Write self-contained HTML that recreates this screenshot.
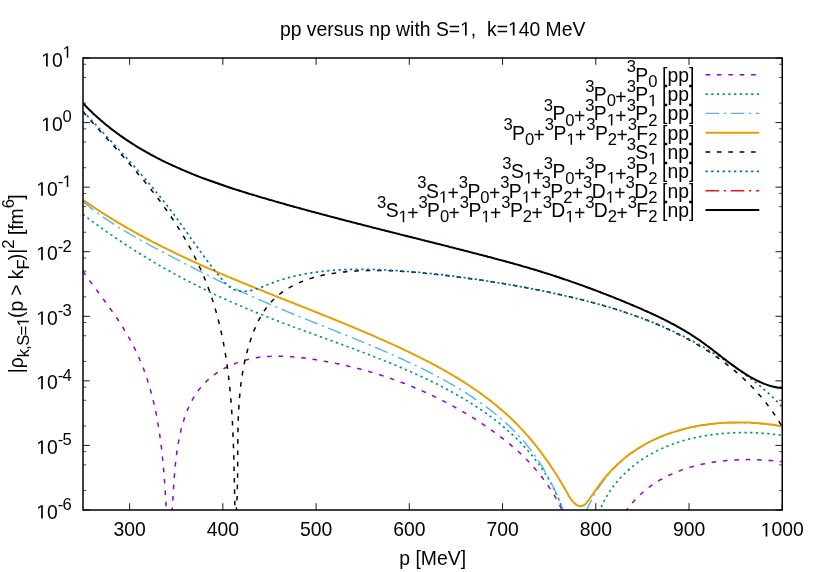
<!DOCTYPE html>
<html><head><meta charset="utf-8"><title>plot</title>
<style>
html,body{margin:0;padding:0;background:#fff;}
svg{display:block;}
text{font-family:"Liberation Sans",sans-serif;fill:#000;}
.h{fill:none;}
.s{font-size:16.64px;letter-spacing:-0.65px;}
</style></head><body>
<svg style="will-change:transform" width="817" height="572" viewBox="0 0 817 572">
<rect width="817" height="572" fill="#fff"/>
<defs><clipPath id="cp"><rect x="83.0" y="58.0" width="699.25" height="452.0"/></clipPath></defs>

<path d="M83.0,58.00h6.8 M782.25,58.00h-6.8 M83.0,122.57h6.8 M782.25,122.57h-6.8 M83.0,187.14h6.8 M782.25,187.14h-6.8 M83.0,251.71h6.8 M782.25,251.71h-6.8 M83.0,316.29h6.8 M782.25,316.29h-6.8 M83.0,380.86h6.8 M782.25,380.86h-6.8 M83.0,445.43h6.8 M782.25,445.43h-6.8 M83.0,510.00h6.8 M782.25,510.00h-6.8 M129.62,510.0v-6.8 M129.62,58.0v6.8 M222.85,510.0v-6.8 M222.85,58.0v6.8 M316.08,510.0v-6.8 M316.08,58.0v6.8 M409.32,510.0v-6.8 M409.32,58.0v6.8 M502.55,510.0v-6.8 M502.55,58.0v6.8 M595.78,510.0v-6.8 M595.78,58.0v6.8 M689.02,510.0v-6.8 M689.02,58.0v6.8 M782.25,510.0v-6.8 M782.25,58.0v6.8" stroke="#000" stroke-width="0.9" fill="none"/>
<path d="M83.0,103.13h3.2 M782.25,103.13h-3.2 M83.0,77.44h3.2 M782.25,77.44h-3.2 M83.0,64.26h3.2 M782.25,64.26h-3.2 M83.0,167.70h3.2 M782.25,167.70h-3.2 M83.0,142.01h3.2 M782.25,142.01h-3.2 M83.0,128.83h3.2 M782.25,128.83h-3.2 M83.0,232.28h3.2 M782.25,232.28h-3.2 M83.0,206.58h3.2 M782.25,206.58h-3.2 M83.0,193.40h3.2 M782.25,193.40h-3.2 M83.0,296.85h3.2 M782.25,296.85h-3.2 M83.0,271.15h3.2 M782.25,271.15h-3.2 M83.0,257.97h3.2 M782.25,257.97h-3.2 M83.0,361.42h3.2 M782.25,361.42h-3.2 M83.0,335.72h3.2 M782.25,335.72h-3.2 M83.0,322.54h3.2 M782.25,322.54h-3.2 M83.0,425.99h3.2 M782.25,425.99h-3.2 M83.0,400.30h3.2 M782.25,400.30h-3.2 M83.0,387.11h3.2 M782.25,387.11h-3.2 M83.0,490.56h3.2 M782.25,490.56h-3.2 M83.0,464.87h3.2 M782.25,464.87h-3.2 M83.0,451.69h3.2 M782.25,451.69h-3.2" stroke="#000" stroke-width="0.7" fill="none"/>
<text x="71.2" y="66.50" font-size="19.35" text-anchor="end"><tspan class="h">1</tspan>0<tspan class="s" dx="-0.1" dy="-8.70"><tspan class="h">1</tspan></tspan></text>
<text x="71.2" y="131.07" font-size="19.35" text-anchor="end"><tspan class="h">1</tspan>0<tspan class="s" dx="-0.1" dy="-8.70">0</tspan></text>
<text x="71.2" y="195.64" font-size="19.35" text-anchor="end"><tspan class="h">1</tspan>0<tspan class="s" dx="-0.1" dy="-8.70">-<tspan class="h">1</tspan></tspan></text>
<text x="71.2" y="260.21" font-size="19.35" text-anchor="end"><tspan class="h">1</tspan>0<tspan class="s" dx="-0.1" dy="-8.70">-2</tspan></text>
<text x="71.2" y="324.79" font-size="19.35" text-anchor="end"><tspan class="h">1</tspan>0<tspan class="s" dx="-0.1" dy="-8.70">-3</tspan></text>
<text x="71.2" y="389.36" font-size="19.35" text-anchor="end"><tspan class="h">1</tspan>0<tspan class="s" dx="-0.1" dy="-8.70">-4</tspan></text>
<text x="71.2" y="453.93" font-size="19.35" text-anchor="end"><tspan class="h">1</tspan>0<tspan class="s" dx="-0.1" dy="-8.70">-5</tspan></text>
<text x="71.2" y="518.50" font-size="19.35" text-anchor="end"><tspan class="h">1</tspan>0<tspan class="s" dx="-0.1" dy="-8.70">-6</tspan></text>
<text x="129.62" y="536.4" font-size="19.35" text-anchor="middle">300</text>
<text x="222.85" y="536.4" font-size="19.35" text-anchor="middle">400</text>
<text x="316.08" y="536.4" font-size="19.35" text-anchor="middle">500</text>
<text x="409.32" y="536.4" font-size="19.35" text-anchor="middle">600</text>
<text x="502.55" y="536.4" font-size="19.35" text-anchor="middle">700</text>
<text x="595.78" y="536.4" font-size="19.35" text-anchor="middle">800</text>
<text x="689.02" y="536.4" font-size="19.35" text-anchor="middle">900</text>
<text x="782.25" y="536.4" font-size="19.35" text-anchor="middle"><tspan class="h">1</tspan>000</text>
<text x="432.7" y="35.5" font-size="19.35" text-anchor="middle" xml:space="preserve">pp versus np with S=<tspan class="h">1</tspan>,  k=<tspan class="h">1</tspan>40 MeV</text>
<text x="432.7" y="565.3" font-size="19.35" text-anchor="middle">p [MeV]</text>
<text transform="translate(22.6,283.85) rotate(-90)" font-size="19.35" text-anchor="middle" textLength="178.8">|ρ<tspan class="s" dy="6.10">k,S=<tspan class="h">1</tspan></tspan><tspan dy="-6.10">(p &gt; k</tspan><tspan class="s" dy="6.10">F</tspan><tspan dy="-6.10">)|</tspan><tspan class="s" dy="-8.70">2</tspan><tspan dy="8.70"> [fm</tspan><tspan class="s" dy="-8.70">6</tspan><tspan dy="8.70">]</tspan></text>
<g clip-path="url(#cp)" fill="none" stroke-linejoin="round">
<path d="M82.9,271.1 L83.8,272.3 L84.6,273.6 L85.5,274.8 L86.3,276.0 L87.2,277.2 L88.1,278.4 L89.0,279.7 L89.8,280.9 L90.7,282.1 L91.6,283.3 L92.5,284.5 L93.4,285.7 L94.3,286.9 L95.2,288.2 L96.1,289.4 L97.0,290.6 L97.9,291.8 L98.8,293.0 L99.7,294.2 L100.6,295.4 L101.5,296.6 L102.4,297.8 L103.3,299.1 L104.2,300.3 L105.1,301.5 L106.0,302.7 L106.8,303.9 L107.7,305.2 L108.6,306.4 L109.5,307.6 L110.4,308.8 L111.3,310.1 L112.1,311.3 L113.0,312.5 L113.9,313.8 L114.7,315.0 L115.6,316.3 L116.4,317.5 L117.3,318.8 L118.1,320.0 L118.9,321.3 L119.8,322.6 L120.6,323.8 L121.4,325.1 L122.2,326.4 L123.0,327.7 L123.8,329.0 L124.6,330.3 L125.4,331.5 L126.1,332.8 L126.9,334.1 L127.7,335.5 L128.4,336.8 L129.2,338.1 L129.9,339.4 L130.6,340.7 L131.3,342.0 L132.0,343.4 L132.7,344.7 L133.4,346.1 L134.1,347.4 L134.8,348.7 L135.5,350.1 L136.1,351.4 L136.8,352.8 L137.4,354.2 L138.0,355.5 L138.6,356.9 L139.2,358.3 L139.8,359.7 L140.4,361.0 L141.0,362.4 L141.6,363.8 L142.1,365.2 L142.7,366.6 L143.2,368.0 L143.8,369.4 L144.3,370.8 L144.8,372.2 L145.3,373.6 L145.8,375.1 L146.3,376.5 L146.8,377.9 L147.3,379.3 L147.7,380.8 L148.2,382.2 L148.6,383.6 L149.1,385.1 L149.5,386.5 L149.9,388.0 L150.3,389.4 L150.7,390.9 L151.1,392.3 L151.5,393.8 L151.9,395.2 L152.3,396.7 L152.7,398.2 L153.0,399.6 L153.4,401.1 L153.7,402.6 L154.1,404.0 L154.4,405.5 L154.7,407.0 L155.1,408.5 L155.4,410.0 L155.7,411.4 L156.0,412.9 L156.3,414.4 L156.6,415.9 L156.8,417.4 L157.1,418.9 L157.4,420.4 L157.7,421.9 L157.9,423.4 L158.2,424.9 L158.4,426.4 L158.7,427.9 L158.9,429.4 L159.1,430.9 L159.4,432.4 L159.6,433.9 L159.8,435.4 L160.0,436.9 L160.2,438.4 L160.4,439.9 L160.6,441.4 L160.8,442.9 L161.0,444.4 L161.2,445.9 L161.4,447.4 L161.6,448.9 L161.7,450.5 L161.9,452.0 L162.1,453.5 L162.2,455.0 L162.4,456.5 L162.5,458.0 L162.7,459.5 L162.8,461.0 L163.0,462.6 L163.1,464.1 L163.3,465.6 L163.4,467.1 L163.5,468.6 L163.7,470.1 L163.8,471.6 L163.9,473.1 L164.0,474.6 L164.1,476.1 L164.3,477.7 L164.4,479.2 L164.5,480.7 L164.6,482.2 L164.7,483.7 L164.8,485.2 L164.9,486.7 L165.0,488.2 L165.1,489.7 L165.2,491.2 L165.3,492.7 L165.4,494.2 L165.5,495.7 L165.6,497.2 L165.7,498.6 L165.8,500.1 L165.9,501.6 L166.0,503.1 L166.0,504.6 L166.1,506.1 L166.2,507.6 L166.3,509.0 L166.4,510.5 L166.5,512.0" stroke="#9400d3" stroke-width="1.5" stroke-dasharray="4.6 6.8"/>
<path d="M172.0,512.0 L172.1,510.7 L172.2,509.4 L172.3,508.2 L172.3,506.8 L172.4,505.5 L172.5,504.2 L172.6,502.8 L172.7,501.5 L172.8,500.1 L172.9,498.7 L173.0,497.3 L173.1,495.9 L173.2,494.4 L173.2,493.0 L173.3,491.6 L173.4,490.1 L173.5,488.6 L173.6,487.1 L173.7,485.7 L173.8,484.2 L173.9,482.7 L174.0,481.1 L174.1,479.6 L174.2,478.1 L174.3,476.6 L174.5,475.0 L174.6,473.5 L174.7,471.9 L174.8,470.4 L175.0,468.8 L175.1,467.2 L175.3,465.7 L175.4,464.1 L175.6,462.5 L175.8,461.0 L175.9,459.4 L176.1,457.8 L176.3,456.2 L176.5,454.6 L176.7,453.0 L177.0,451.5 L177.2,449.9 L177.4,448.3 L177.7,446.7 L177.9,445.1 L178.2,443.6 L178.5,442.0 L178.8,440.4 L179.1,438.9 L179.4,437.3 L179.7,435.7 L180.0,434.2 L180.4,432.6 L180.8,431.1 L181.1,429.6 L181.5,428.0 L181.9,426.5 L182.3,425.0 L182.8,423.5 L183.2,422.0 L183.7,420.5 L184.1,419.0 L184.6,417.6 L185.1,416.1 L185.7,414.6 L186.2,413.2 L186.8,411.8 L187.3,410.4 L187.9,408.9 L188.5,407.6 L189.1,406.2 L189.8,404.8 L190.5,403.4 L191.1,402.1 L191.8,400.8 L192.6,399.5 L193.3,398.2 L194.1,396.9 L194.8,395.6 L195.6,394.4 L196.4,393.1 L197.3,391.9 L198.2,390.7 L199.0,389.6 L199.9,388.4 L200.9,387.3 L201.8,386.1 L202.8,385.0 L203.8,384.0 L204.8,382.9 L205.9,381.9 L206.9,380.8 L208.0,379.8 L209.1,378.9 L210.2,377.9 L211.4,377.0 L212.6,376.1 L213.7,375.2 L214.9,374.3 L216.2,373.4 L217.4,372.6 L218.6,371.8 L219.9,371.0 L221.2,370.2 L222.5,369.5 L223.8,368.7 L225.1,368.0 L226.4,367.3 L227.8,366.7 L229.1,366.0 L230.5,365.4 L231.9,364.8 L233.3,364.2 L234.7,363.7 L236.1,363.1 L237.5,362.6 L238.9,362.1 L240.3,361.6 L241.8,361.2 L243.2,360.7 L244.7,360.3 L246.1,359.9 L247.6,359.6 L249.0,359.2 L250.5,358.9 L252.0,358.6 L253.4,358.3 L254.9,358.0 L256.4,357.8 L257.9,357.6 L259.3,357.3 L260.8,357.2 L262.3,357.0 L263.8,356.8 L265.3,356.7 L266.8,356.6 L268.3,356.5 L269.8,356.4 L271.3,356.3 L272.8,356.3 L274.4,356.2 L275.9,356.2 L277.4,356.2 L278.9,356.2 L280.4,356.2 L281.9,356.2 L283.5,356.3 L285.0,356.3 L286.5,356.4 L288.0,356.5 L289.5,356.6 L291.1,356.7 L292.6,356.8 L294.1,356.9 L295.6,357.1 L297.2,357.2 L298.7,357.4 L300.2,357.5 L301.7,357.7 L303.2,357.9 L304.8,358.1 L306.3,358.3 L307.8,358.5 L309.3,358.7 L310.8,358.9 L312.3,359.2 L313.8,359.4 L315.4,359.6 L316.9,359.9 L318.4,360.1 L319.9,360.4 L321.4,360.6 L322.9,360.9 L324.4,361.2 L325.9,361.4 L327.4,361.7 L328.8,362.0 L330.3,362.3 L331.8,362.6 L333.3,362.9 L334.8,363.1 L336.3,363.5 L337.7,363.8 L339.2,364.1 L340.7,364.4 L342.2,364.7 L343.6,365.0 L345.1,365.4 L346.6,365.7 L348.0,366.0 L349.5,366.4 L350.9,366.7 L352.4,367.1 L353.9,367.5 L355.3,367.8 L356.8,368.2 L358.2,368.6 L359.7,368.9 L361.1,369.3 L362.6,369.7 L364.0,370.1 L365.4,370.5 L366.9,370.9 L368.3,371.3 L369.8,371.7 L371.2,372.2 L372.6,372.6 L374.1,373.0 L375.5,373.4 L376.9,373.9 L378.3,374.3 L379.8,374.8 L381.2,375.2 L382.6,375.7 L384.0,376.2 L385.5,376.6 L386.9,377.1 L388.3,377.6 L389.7,378.1 L391.1,378.6 L392.5,379.1 L394.0,379.6 L395.4,380.1 L396.8,380.6 L398.2,381.1 L399.6,381.6 L401.0,382.2 L402.4,382.7 L403.8,383.2 L405.2,383.8 L406.6,384.3 L408.0,384.9 L409.4,385.5 L410.8,386.0 L412.2,386.6 L413.6,387.2 L415.0,387.8 L416.4,388.3 L417.7,388.9 L419.1,389.5 L420.5,390.1 L421.9,390.8 L423.3,391.4 L424.6,392.0 L426.0,392.6 L427.4,393.2 L428.8,393.9 L430.1,394.5 L431.5,395.2 L432.9,395.8 L434.2,396.5 L435.6,397.1 L436.9,397.8 L438.3,398.5 L439.6,399.1 L441.0,399.8 L442.3,400.5 L443.7,401.2 L445.0,401.9 L446.4,402.6 L447.7,403.3 L449.1,404.0 L450.4,404.7 L451.7,405.4 L453.0,406.2 L454.4,406.9 L455.7,407.6 L457.0,408.4 L458.3,409.1 L459.7,409.9 L461.0,410.6 L462.3,411.4 L463.6,412.1 L464.9,412.9 L466.2,413.7 L467.5,414.5 L468.8,415.2 L470.1,416.0 L471.4,416.8 L472.6,417.6 L473.9,418.4 L475.2,419.2 L476.5,420.1 L477.8,420.9 L479.0,421.7 L480.3,422.5 L481.6,423.4 L482.8,424.2 L484.1,425.0 L485.3,425.9 L486.6,426.7 L487.8,427.6 L489.1,428.4 L490.3,429.3 L491.5,430.2 L492.8,431.1 L494.0,431.9 L495.2,432.8 L496.4,433.7 L497.7,434.6 L498.9,435.5 L500.1,436.4 L501.3,437.4 L502.5,438.3 L503.7,439.2 L504.8,440.1 L506.0,441.1 L507.2,442.0 L508.4,443.0 L509.5,443.9 L510.7,444.9 L511.8,445.9 L513.0,446.8 L514.1,447.8 L515.2,448.8 L516.4,449.8 L517.5,450.8 L518.6,451.8 L519.7,452.8 L520.8,453.9 L521.9,454.9 L523.0,455.9 L524.0,457.0 L525.1,458.0 L526.2,459.1 L527.2,460.2 L528.3,461.2 L529.3,462.3 L530.3,463.4 L531.3,464.5 L532.3,465.6 L533.3,466.8 L534.3,467.9 L535.3,469.0 L536.3,470.2 L537.3,471.3 L538.2,472.5 L539.2,473.6 L540.1,474.8 L541.1,476.0 L542.0,477.2 L542.9,478.4 L543.8,479.6 L544.7,480.8 L545.6,482.0 L546.4,483.2 L547.3,484.5 L548.2,485.7 L549.0,487.0 L549.8,488.2 L550.7,489.5 L551.5,490.8 L552.3,492.0 L553.1,493.3 L553.8,494.6 L554.6,495.9 L555.4,497.2 L556.1,498.5 L556.9,499.9 L557.6,501.2 L558.3,502.5 L559.0,503.9 L559.7,505.2 L560.4,506.6 L561.0,507.9 L561.7,509.3 L562.3,510.7 L563.0,512.1" stroke="#9400d3" stroke-width="1.5" stroke-dasharray="4.6 6.8"/>
<path d="M625.3,512.1 L626.2,510.8 L627.1,509.5 L628.0,508.2 L629.0,507.0 L629.9,505.8 L630.9,504.6 L631.9,503.4 L632.9,502.2 L633.9,501.0 L635.0,499.9 L636.0,498.8 L637.1,497.7 L638.2,496.6 L639.3,495.6 L640.4,494.5 L641.5,493.5 L642.6,492.5 L643.7,491.5 L644.9,490.5 L646.1,489.6 L647.2,488.6 L648.4,487.7 L649.6,486.8 L650.8,485.9 L652.0,485.1 L653.3,484.2 L654.5,483.4 L655.8,482.6 L657.0,481.8 L658.3,481.0 L659.6,480.2 L660.9,479.5 L662.2,478.8 L663.5,478.0 L664.8,477.3 L666.2,476.7 L667.5,476.0 L668.8,475.3 L670.2,474.7 L671.6,474.1 L672.9,473.5 L674.3,472.9 L675.7,472.3 L677.1,471.7 L678.5,471.2 L679.9,470.7 L681.3,470.1 L682.7,469.6 L684.2,469.1 L685.6,468.7 L687.1,468.2 L688.5,467.8 L690.0,467.3 L691.4,466.9 L692.9,466.5 L694.4,466.1 L695.8,465.7 L697.3,465.3 L698.8,465.0 L700.3,464.6 L701.8,464.3 L703.3,464.0 L704.8,463.7 L706.3,463.4 L707.8,463.1 L709.3,462.8 L710.8,462.6 L712.3,462.3 L713.8,462.1 L715.4,461.9 L716.9,461.7 L718.4,461.5 L719.9,461.3 L721.5,461.1 L723.0,460.9 L724.5,460.8 L726.1,460.6 L727.6,460.5 L729.1,460.4 L730.7,460.3 L732.2,460.2 L733.7,460.1 L735.3,460.0 L736.8,459.9 L738.3,459.8 L739.9,459.8 L741.4,459.7 L742.9,459.7 L744.5,459.7 L746.0,459.7 L747.5,459.6 L749.1,459.6 L750.6,459.7 L752.1,459.7 L753.6,459.7 L755.1,459.7 L756.7,459.8 L758.2,459.8 L759.7,459.9 L761.2,460.0 L762.7,460.0 L764.2,460.1 L765.7,460.2 L767.2,460.3 L768.6,460.4 L770.1,460.5 L771.6,460.6 L773.1,460.7 L774.5,460.9 L776.0,461.0 L777.5,461.2 L778.9,461.3 L780.4,461.5 L781.8,461.6" stroke="#9400d3" stroke-width="1.5" stroke-dasharray="4.6 6.8"/>
<path d="M82.9,214.2 L84.1,215.1 L85.3,216.0 L86.5,217.0 L87.7,217.9 L88.8,218.8 L90.0,219.7 L91.2,220.6 L92.4,221.5 L93.6,222.4 L94.9,223.2 L96.1,224.1 L97.3,225.0 L98.5,225.9 L99.7,226.8 L100.9,227.7 L102.1,228.5 L103.4,229.4 L104.6,230.3 L105.8,231.1 L107.0,232.0 L108.3,232.9 L109.5,233.7 L110.7,234.6 L112.0,235.4 L113.2,236.3 L114.4,237.1 L115.7,238.0 L116.9,238.8 L118.2,239.7 L119.4,240.5 L120.7,241.3 L121.9,242.2 L123.2,243.0 L124.4,243.8 L125.7,244.7 L126.9,245.5 L128.2,246.3 L129.5,247.1 L130.7,247.9 L132.0,248.7 L133.3,249.5 L134.5,250.3 L135.8,251.2 L137.1,252.0 L138.4,252.7 L139.6,253.5 L140.9,254.3 L142.2,255.1 L143.5,255.9 L144.8,256.7 L146.1,257.5 L147.3,258.3 L148.6,259.0 L149.9,259.8 L151.2,260.6 L152.5,261.4 L153.8,262.1 L155.1,262.9 L156.4,263.6 L157.7,264.4 L159.0,265.2 L160.3,265.9 L161.6,266.7 L162.9,267.4 L164.2,268.2 L165.6,268.9 L166.9,269.6 L168.2,270.4 L169.5,271.1 L170.8,271.8 L172.1,272.6 L173.5,273.3 L174.8,274.0 L176.1,274.7 L177.4,275.5 L178.8,276.2 L180.1,276.9 L181.4,277.6 L182.7,278.3 L184.1,279.0 L185.4,279.7 L186.7,280.4 L188.1,281.1 L189.4,281.8 L190.8,282.5 L192.1,283.2 L193.4,283.9 L194.8,284.6 L196.1,285.2 L197.5,285.9 L198.8,286.6 L200.2,287.3 L201.5,287.9 L202.9,288.6 L204.2,289.3 L205.6,289.9 L206.9,290.6 L208.3,291.2 L209.6,291.9 L211.0,292.6 L212.4,293.2 L213.7,293.8 L215.1,294.5 L216.4,295.1 L217.8,295.8 L219.2,296.4 L220.5,297.0 L221.9,297.7 L223.3,298.3 L224.6,298.9 L226.0,299.5 L227.4,300.2 L228.8,300.8 L230.1,301.4 L231.5,302.0 L232.9,302.6 L234.3,303.2 L235.6,303.8 L237.0,304.4 L238.4,305.0 L239.8,305.6 L241.2,306.2 L242.5,306.8 L243.9,307.4 L245.3,308.0 L246.7,308.6 L248.1,309.2 L249.5,309.7 L250.9,310.3 L252.2,310.9 L253.6,311.5 L255.0,312.0 L256.4,312.6 L257.8,313.1 L259.2,313.7 L260.6,314.3 L262.0,314.8 L263.4,315.4 L264.8,315.9 L266.2,316.5 L267.6,317.0 L269.0,317.6 L270.4,318.1 L271.8,318.7 L273.2,319.2 L274.6,319.7 L276.0,320.3 L277.4,320.8 L278.8,321.4 L280.2,321.9 L281.6,322.4 L283.0,323.0 L284.4,323.5 L285.8,324.0 L287.2,324.5 L288.6,325.1 L290.0,325.6 L291.4,326.1 L292.8,326.6 L294.2,327.2 L295.6,327.7 L297.1,328.2 L298.5,328.7 L299.9,329.2 L301.3,329.7 L302.7,330.3 L304.1,330.8 L305.5,331.3 L306.9,331.8 L308.3,332.3 L309.7,332.8 L311.2,333.3 L312.6,333.9 L314.0,334.4 L315.4,334.9 L316.8,335.4 L318.2,335.9 L319.6,336.4 L321.0,336.9 L322.4,337.4 L323.9,338.0 L325.3,338.5 L326.7,339.0 L328.1,339.5 L329.5,340.0 L330.9,340.5 L332.3,341.0 L333.7,341.5 L335.1,342.1 L336.6,342.6 L338.0,343.1 L339.4,343.6 L340.8,344.1 L342.2,344.6 L343.6,345.1 L345.0,345.7 L346.4,346.2 L347.8,346.7 L349.2,347.2 L350.7,347.7 L352.1,348.3 L353.5,348.8 L354.9,349.3 L356.3,349.8 L357.7,350.4 L359.1,350.9 L360.5,351.4 L361.9,352.0 L363.3,352.5 L364.7,353.0 L366.1,353.6 L367.5,354.1 L368.9,354.6 L370.3,355.2 L371.7,355.7 L373.1,356.3 L374.5,356.8 L375.9,357.4 L377.3,357.9 L378.7,358.5 L380.1,359.0 L381.5,359.6 L382.9,360.1 L384.3,360.7 L385.7,361.2 L387.1,361.8 L388.5,362.4 L389.9,362.9 L391.3,363.5 L392.7,364.1 L394.1,364.7 L395.5,365.2 L396.9,365.8 L398.3,366.4 L399.7,367.0 L401.1,367.6 L402.4,368.2 L403.8,368.8 L405.2,369.4 L406.6,370.0 L408.0,370.6 L409.4,371.2 L410.7,371.8 L412.1,372.4 L413.5,373.0 L414.9,373.6 L416.3,374.3 L417.6,374.9 L419.0,375.5 L420.4,376.2 L421.8,376.8 L423.1,377.4 L424.5,378.1 L425.9,378.7 L427.2,379.4 L428.6,380.0 L430.0,380.7 L431.3,381.4 L432.7,382.0 L434.1,382.7 L435.4,383.4 L436.8,384.0 L438.1,384.7 L439.5,385.4 L440.8,386.1 L442.2,386.8 L443.5,387.5 L444.8,388.2 L446.2,388.9 L447.5,389.6 L448.8,390.3 L450.2,391.1 L451.5,391.8 L452.8,392.5 L454.2,393.3 L455.5,394.0 L456.8,394.7 L458.1,395.5 L459.4,396.2 L460.7,397.0 L462.0,397.8 L463.3,398.5 L464.6,399.3 L465.9,400.1 L467.2,400.9 L468.5,401.7 L469.8,402.5 L471.0,403.3 L472.3,404.1 L473.6,404.9 L474.8,405.7 L476.1,406.5 L477.3,407.3 L478.6,408.2 L479.8,409.0 L481.1,409.8 L482.3,410.7 L483.6,411.6 L484.8,412.4 L486.0,413.3 L487.2,414.2 L488.4,415.0 L489.6,415.9 L490.9,416.8 L492.0,417.7 L493.2,418.6 L494.4,419.5 L495.6,420.4 L496.8,421.4 L498.0,422.3 L499.1,423.2 L500.3,424.2 L501.4,425.1 L502.6,426.1 L503.7,427.0 L504.9,428.0 L506.0,429.0 L507.1,429.9 L508.2,430.9 L509.4,431.9 L510.5,432.9 L511.6,433.9 L512.7,434.9 L513.7,436.0 L514.8,437.0 L515.9,438.0 L517.0,439.1 L518.0,440.1 L519.1,441.2 L520.1,442.2 L521.2,443.3 L522.2,444.4 L523.2,445.5 L524.2,446.6 L525.2,447.7 L526.2,448.8 L527.2,449.9 L528.2,451.0 L529.2,452.2 L530.2,453.3 L531.1,454.4 L532.1,455.6 L533.0,456.8 L534.0,457.9 L534.9,459.1 L535.8,460.3 L536.7,461.5 L537.7,462.7 L538.6,463.9 L539.4,465.1 L540.3,466.4 L541.2,467.6 L542.1,468.8 L542.9,470.1 L543.7,471.3 L544.6,472.6 L545.4,473.9 L546.2,475.2 L547.0,476.4 L547.8,477.7 L548.6,479.0 L549.3,480.3 L550.1,481.7 L550.8,483.0 L551.6,484.3 L552.3,485.6 L553.0,487.0 L553.7,488.3 L554.4,489.7 L555.0,491.0 L555.7,492.4 L556.3,493.8 L556.9,495.1 L557.5,496.5 L558.1,497.9 L558.7,499.3 L559.3,500.7 L559.8,502.1 L560.4,503.5 L560.9,504.9 L561.4,506.3 L561.9,507.7 L562.3,509.2 L562.8,510.6 L563.2,512.0" stroke="#009e73" stroke-width="1.7" stroke-dasharray="2.3 3.4"/>
<path d="M599.0,512.3 L599.6,510.8 L600.2,509.3 L600.8,507.9 L601.5,506.4 L602.1,505.0 L602.8,503.6 L603.5,502.2 L604.2,500.8 L605.0,499.4 L605.7,498.1 L606.5,496.7 L607.3,495.4 L608.1,494.1 L608.9,492.8 L609.7,491.5 L610.6,490.3 L611.4,489.0 L612.3,487.8 L613.2,486.5 L614.1,485.3 L615.1,484.1 L616.0,483.0 L617.0,481.8 L618.0,480.7 L618.9,479.5 L620.0,478.4 L621.0,477.3 L622.0,476.2 L623.1,475.1 L624.1,474.1 L625.2,473.0 L626.3,472.0 L627.4,471.0 L628.5,470.0 L629.6,469.0 L630.7,468.0 L631.9,467.0 L633.1,466.1 L634.2,465.2 L635.4,464.2 L636.6,463.3 L637.8,462.4 L639.0,461.6 L640.3,460.7 L641.5,459.9 L642.7,459.0 L644.0,458.2 L645.3,457.4 L646.5,456.6 L647.8,455.8 L649.1,455.1 L650.4,454.3 L651.7,453.6 L653.1,452.9 L654.4,452.2 L655.7,451.5 L657.1,450.8 L658.4,450.1 L659.8,449.5 L661.2,448.8 L662.5,448.2 L663.9,447.6 L665.3,447.0 L666.7,446.4 L668.1,445.9 L669.5,445.3 L670.9,444.8 L672.3,444.2 L673.8,443.7 L675.2,443.2 L676.6,442.7 L678.1,442.3 L679.5,441.8 L681.0,441.3 L682.4,440.9 L683.9,440.5 L685.3,440.1 L686.8,439.7 L688.3,439.3 L689.8,438.9 L691.3,438.5 L692.7,438.2 L694.2,437.8 L695.7,437.5 L697.2,437.2 L698.7,436.9 L700.2,436.6 L701.7,436.3 L703.2,436.0 L704.8,435.8 L706.3,435.5 L707.8,435.3 L709.3,435.0 L710.8,434.8 L712.3,434.6 L713.9,434.4 L715.4,434.2 L716.9,434.1 L718.5,433.9 L720.0,433.7 L721.5,433.6 L723.0,433.5 L724.6,433.3 L726.1,433.2 L727.6,433.1 L729.2,433.0 L730.7,432.9 L732.2,432.9 L733.8,432.8 L735.3,432.7 L736.8,432.7 L738.4,432.7 L739.9,432.6 L741.4,432.6 L743.0,432.6 L744.5,432.6 L746.0,432.6 L747.5,432.6 L749.1,432.7 L750.6,432.7 L752.1,432.7 L753.6,432.8 L755.1,432.8 L756.6,432.9 L758.2,433.0 L759.7,433.1 L761.2,433.2 L762.7,433.3 L764.2,433.4 L765.6,433.5 L767.1,433.6 L768.6,433.7 L770.1,433.9 L771.6,434.0 L773.1,434.2 L774.5,434.3 L776.0,434.5 L777.5,434.6 L778.9,434.8 L780.4,435.0 L781.8,435.2" stroke="#009e73" stroke-width="1.7" stroke-dasharray="2.3 3.4"/>
<path d="M82.9,201.4 L84.0,202.4 L85.2,203.4 L86.4,204.4 L87.5,205.3 L88.7,206.3 L89.9,207.2 L91.1,208.1 L92.3,209.1 L93.5,210.0 L94.7,210.9 L95.9,211.8 L97.1,212.7 L98.3,213.6 L99.5,214.5 L100.7,215.3 L102.0,216.2 L103.2,217.1 L104.4,217.9 L105.7,218.8 L106.9,219.6 L108.2,220.5 L109.4,221.3 L110.7,222.1 L111.9,222.9 L113.2,223.8 L114.4,224.6 L115.7,225.4 L117.0,226.2 L118.2,227.0 L119.5,227.8 L120.8,228.6 L122.1,229.3 L123.3,230.1 L124.6,230.9 L125.9,231.7 L127.2,232.4 L128.5,233.2 L129.8,234.0 L131.1,234.7 L132.4,235.5 L133.7,236.2 L135.0,237.0 L136.3,237.7 L137.6,238.4 L138.9,239.2 L140.2,239.9 L141.5,240.6 L142.9,241.4 L144.2,242.1 L145.5,242.8 L146.8,243.5 L148.1,244.2 L149.5,245.0 L150.8,245.7 L152.1,246.4 L153.4,247.1 L154.8,247.8 L156.1,248.5 L157.4,249.2 L158.7,249.9 L160.1,250.6 L161.4,251.3 L162.7,252.0 L164.1,252.7 L165.4,253.4 L166.8,254.1 L168.1,254.8 L169.4,255.5 L170.8,256.2 L172.1,256.9 L173.4,257.6 L174.8,258.3 L176.1,259.0 L177.4,259.7 L178.8,260.4 L180.1,261.1 L181.5,261.8 L182.8,262.5 L184.1,263.2 L185.5,263.8 L186.8,264.5 L188.2,265.2 L189.5,265.9 L190.9,266.6 L192.2,267.3 L193.5,268.0 L194.9,268.7 L196.2,269.4 L197.6,270.1 L198.9,270.8 L200.3,271.4 L201.6,272.1 L202.9,272.8 L204.3,273.5 L205.6,274.2 L207.0,274.9 L208.3,275.5 L209.7,276.2 L211.0,276.9 L212.4,277.6 L213.7,278.2 L215.1,278.9 L216.4,279.6 L217.8,280.3 L219.1,280.9 L220.5,281.6 L221.8,282.3 L223.2,282.9 L224.6,283.6 L225.9,284.2 L227.3,284.9 L228.6,285.6 L230.0,286.2 L231.3,286.9 L232.7,287.5 L234.1,288.2 L235.4,288.8 L236.8,289.4 L238.1,290.1 L239.5,290.7 L240.9,291.4 L242.2,292.0 L243.6,292.6 L245.0,293.3 L246.3,293.9 L247.7,294.5 L249.1,295.1 L250.4,295.8 L251.8,296.4 L253.2,297.0 L254.6,297.6 L255.9,298.2 L257.3,298.8 L258.7,299.4 L260.1,300.0 L261.4,300.6 L262.8,301.2 L264.2,301.8 L265.6,302.4 L266.9,303.0 L268.3,303.6 L269.7,304.2 L271.1,304.8 L272.5,305.4 L273.9,306.0 L275.2,306.6 L276.6,307.2 L278.0,307.7 L279.4,308.3 L280.8,308.9 L282.2,309.5 L283.5,310.0 L284.9,310.6 L286.3,311.2 L287.7,311.8 L289.1,312.3 L290.5,312.9 L291.9,313.5 L293.3,314.0 L294.6,314.6 L296.0,315.2 L297.4,315.7 L298.8,316.3 L300.2,316.9 L301.6,317.4 L303.0,318.0 L304.4,318.6 L305.8,319.1 L307.2,319.7 L308.6,320.2 L310.0,320.8 L311.3,321.4 L312.7,321.9 L314.1,322.5 L315.5,323.0 L316.9,323.6 L318.3,324.1 L319.7,324.7 L321.1,325.3 L322.5,325.8 L323.9,326.4 L325.3,326.9 L326.7,327.5 L328.1,328.0 L329.5,328.6 L330.9,329.2 L332.3,329.7 L333.6,330.3 L335.0,330.8 L336.4,331.4 L337.8,331.9 L339.2,332.5 L340.6,333.1 L342.0,333.6 L343.4,334.2 L344.8,334.7 L346.2,335.3 L347.6,335.9 L349.0,336.4 L350.4,337.0 L351.8,337.6 L353.2,338.1 L354.5,338.7 L355.9,339.3 L357.3,339.8 L358.7,340.4 L360.1,341.0 L361.5,341.6 L362.9,342.1 L364.3,342.7 L365.7,343.3 L367.1,343.9 L368.4,344.4 L369.8,345.0 L371.2,345.6 L372.6,346.2 L374.0,346.8 L375.4,347.4 L376.8,347.9 L378.1,348.5 L379.5,349.1 L380.9,349.7 L382.3,350.3 L383.7,350.9 L385.1,351.5 L386.4,352.1 L387.8,352.7 L389.2,353.3 L390.6,353.9 L392.0,354.5 L393.3,355.2 L394.7,355.8 L396.1,356.4 L397.5,357.0 L398.8,357.6 L400.2,358.3 L401.6,358.9 L403.0,359.5 L404.3,360.1 L405.7,360.8 L407.1,361.4 L408.5,362.1 L409.8,362.7 L411.2,363.3 L412.6,364.0 L413.9,364.6 L415.3,365.3 L416.7,366.0 L418.0,366.6 L419.4,367.3 L420.7,367.9 L422.1,368.6 L423.5,369.3 L424.8,370.0 L426.2,370.6 L427.5,371.3 L428.9,372.0 L430.2,372.7 L431.6,373.4 L432.9,374.1 L434.3,374.8 L435.6,375.5 L437.0,376.2 L438.3,376.9 L439.6,377.6 L441.0,378.3 L442.3,379.1 L443.6,379.8 L445.0,380.5 L446.3,381.3 L447.6,382.0 L448.9,382.8 L450.2,383.5 L451.6,384.3 L452.9,385.0 L454.2,385.8 L455.5,386.5 L456.8,387.3 L458.1,388.1 L459.4,388.9 L460.7,389.7 L462.0,390.4 L463.2,391.2 L464.5,392.0 L465.8,392.8 L467.1,393.6 L468.3,394.5 L469.6,395.3 L470.9,396.1 L472.1,396.9 L473.4,397.8 L474.6,398.6 L475.9,399.5 L477.1,400.3 L478.3,401.2 L479.6,402.0 L480.8,402.9 L482.0,403.8 L483.2,404.6 L484.4,405.5 L485.6,406.4 L486.8,407.3 L488.0,408.2 L489.2,409.1 L490.4,410.0 L491.6,411.0 L492.7,411.9 L493.9,412.8 L495.1,413.8 L496.2,414.7 L497.4,415.7 L498.5,416.6 L499.7,417.6 L500.8,418.5 L501.9,419.5 L503.0,420.5 L504.1,421.5 L505.2,422.5 L506.3,423.5 L507.4,424.5 L508.5,425.5 L509.6,426.5 L510.7,427.6 L511.7,428.6 L512.8,429.7 L513.8,430.7 L514.9,431.8 L515.9,432.8 L517.0,433.9 L518.0,435.0 L519.0,436.1 L520.0,437.2 L521.0,438.3 L522.0,439.4 L523.0,440.5 L523.9,441.6 L524.9,442.8 L525.9,443.9 L526.8,445.0 L527.8,446.2 L528.7,447.4 L529.6,448.5 L530.5,449.7 L531.5,450.9 L532.4,452.1 L533.3,453.3 L534.1,454.5 L535.0,455.7 L535.9,457.0 L536.7,458.2 L537.6,459.5 L538.4,460.7 L539.2,462.0 L540.1,463.2 L540.9,464.5 L541.7,465.8 L542.5,467.1 L543.3,468.4 L544.0,469.7 L544.8,471.0 L545.6,472.3 L546.3,473.7 L547.1,475.0 L547.8,476.3 L548.5,477.7 L549.2,479.0 L549.9,480.4 L550.6,481.7 L551.3,483.1 L552.0,484.5 L552.7,485.8 L553.3,487.2 L554.0,488.6 L554.7,489.9 L555.3,491.3 L555.9,492.7 L556.6,494.1 L557.2,495.5 L557.8,496.9 L558.4,498.3 L559.0,499.7 L559.6,501.0 L560.2,502.4 L560.7,503.8 L561.3,505.2 L561.8,506.6 L562.4,508.0 L562.9,509.4 L563.5,510.8 L564.0,512.2" stroke="#56b4e9" stroke-width="1.4" stroke-dasharray="13.7 4.6 2.3 4.6"/>
<path d="M585.8,512.2 L586.4,510.8 L587.0,509.4 L587.6,508.0 L588.2,506.6 L588.9,505.3 L589.5,503.9 L590.2,502.5 L590.9,501.2 L591.6,499.8 L592.3,498.5 L593.0,497.2 L593.7,495.8 L594.5,494.5 L595.2,493.2 L596.0,491.9 L596.8,490.6 L597.6,489.3 L598.4,488.1 L599.2,486.8 L600.1,485.5 L600.9,484.3 L601.8,483.1 L602.7,481.8 L603.6,480.6 L604.5,479.4 L605.4,478.2 L606.4,477.0 L607.3,475.9 L608.3,474.7 L609.3,473.6 L610.3,472.4 L611.3,471.3 L612.3,470.2 L613.3,469.1 L614.4,468.0 L615.4,466.9 L616.5,465.9 L617.6,464.8 L618.7,463.8 L619.8,462.8 L620.9,461.7 L622.0,460.7 L623.1,459.8 L624.3,458.8 L625.4,457.8 L626.6,456.9 L627.8,455.9 L629.0,455.0 L630.2,454.1 L631.4,453.2 L632.6,452.3 L633.8,451.5 L635.1,450.6 L636.3,449.8 L637.6,449.0 L638.8,448.1 L640.1,447.4 L641.4,446.6 L642.7,445.8 L644.0,445.1 L645.3,444.3 L646.6,443.6 L647.9,442.9 L649.2,442.2 L650.5,441.5 L651.9,440.8 L653.2,440.2 L654.6,439.5 L655.9,438.9 L657.3,438.3 L658.7,437.7 L660.1,437.1 L661.4,436.5 L662.8,435.9 L664.2,435.4 L665.6,434.9 L667.0,434.3 L668.5,433.8 L669.9,433.3 L671.3,432.8 L672.7,432.3 L674.2,431.9 L675.6,431.4 L677.1,431.0 L678.5,430.6 L680.0,430.2 L681.4,429.8 L682.9,429.4 L684.4,429.0 L685.8,428.6 L687.3,428.3 L688.8,427.9 L690.3,427.6 L691.7,427.3 L693.2,427.0 L694.7,426.7 L696.2,426.4 L697.7,426.1 L699.2,425.8 L700.7,425.6 L702.2,425.3 L703.7,425.1 L705.2,424.9 L706.8,424.7 L708.3,424.5 L709.8,424.3 L711.3,424.1 L712.8,423.9 L714.3,423.8 L715.8,423.6 L717.4,423.5 L718.9,423.4 L720.4,423.3 L721.9,423.2 L723.5,423.1 L725.0,423.0 L726.5,422.9 L728.0,422.8 L729.5,422.8 L731.1,422.7 L732.6,422.7 L734.1,422.7 L735.6,422.6 L737.2,422.6 L738.7,422.6 L740.2,422.6 L741.7,422.7 L743.2,422.7 L744.7,422.7 L746.3,422.8 L747.8,422.8 L749.3,422.9 L750.8,423.0 L752.3,423.0 L753.8,423.1 L755.3,423.2 L756.8,423.3 L758.3,423.4 L759.8,423.6 L761.3,423.7 L762.7,423.8 L764.2,424.0 L765.7,424.1 L767.2,424.3 L768.7,424.5 L770.1,424.6 L771.6,424.8 L773.0,425.0 L774.5,425.2 L775.9,425.4 L777.4,425.6 L778.8,425.8 L780.3,426.1 L781.7,426.3" stroke="#56b4e9" stroke-width="1.4" stroke-dasharray="13.7 4.6 2.3 4.6"/>
<path d="M82.6,199.6 L83.8,200.5 L85.1,201.4 L86.3,202.2 L87.6,203.1 L88.8,203.9 L90.1,204.8 L91.3,205.6 L92.6,206.5 L93.9,207.3 L95.1,208.2 L96.4,209.0 L97.7,209.8 L98.9,210.7 L100.2,211.5 L101.5,212.3 L102.7,213.1 L104.0,213.9 L105.3,214.8 L106.6,215.6 L107.9,216.4 L109.1,217.2 L110.4,217.9 L111.7,218.7 L113.0,219.5 L114.3,220.3 L115.6,221.1 L116.9,221.9 L118.2,222.6 L119.4,223.4 L120.7,224.2 L122.0,224.9 L123.3,225.7 L124.6,226.5 L125.9,227.2 L127.2,228.0 L128.6,228.7 L129.9,229.4 L131.2,230.2 L132.5,230.9 L133.8,231.7 L135.1,232.4 L136.4,233.1 L137.7,233.8 L139.1,234.6 L140.4,235.3 L141.7,236.0 L143.0,236.7 L144.3,237.4 L145.7,238.1 L147.0,238.8 L148.3,239.5 L149.6,240.2 L151.0,240.9 L152.3,241.6 L153.6,242.3 L155.0,243.0 L156.3,243.7 L157.6,244.4 L159.0,245.0 L160.3,245.7 L161.6,246.4 L163.0,247.1 L164.3,247.7 L165.7,248.4 L167.0,249.1 L168.3,249.7 L169.7,250.4 L171.0,251.0 L172.4,251.7 L173.7,252.3 L175.1,253.0 L176.4,253.6 L177.8,254.3 L179.1,254.9 L180.5,255.6 L181.8,256.2 L183.2,256.9 L184.6,257.5 L185.9,258.1 L187.3,258.8 L188.6,259.4 L190.0,260.0 L191.4,260.6 L192.7,261.3 L194.1,261.9 L195.5,262.5 L196.8,263.1 L198.2,263.7 L199.5,264.3 L200.9,265.0 L202.3,265.6 L203.7,266.2 L205.0,266.8 L206.4,267.4 L207.8,268.0 L209.1,268.6 L210.5,269.2 L211.9,269.8 L213.3,270.4 L214.6,271.0 L216.0,271.6 L217.4,272.2 L218.8,272.8 L220.1,273.4 L221.5,273.9 L222.9,274.5 L224.3,275.1 L225.7,275.7 L227.1,276.3 L228.4,276.9 L229.8,277.4 L231.2,278.0 L232.6,278.6 L234.0,279.2 L235.4,279.8 L236.7,280.3 L238.1,280.9 L239.5,281.5 L240.9,282.1 L242.3,282.6 L243.7,283.2 L245.1,283.8 L246.5,284.3 L247.8,284.9 L249.2,285.5 L250.6,286.0 L252.0,286.6 L253.4,287.2 L254.8,287.7 L256.2,288.3 L257.6,288.9 L259.0,289.4 L260.4,290.0 L261.8,290.5 L263.2,291.1 L264.6,291.7 L265.9,292.2 L267.3,292.8 L268.7,293.3 L270.1,293.9 L271.5,294.4 L272.9,295.0 L274.3,295.6 L275.7,296.1 L277.1,296.7 L278.5,297.2 L279.9,297.8 L281.3,298.3 L282.7,298.9 L284.1,299.4 L285.5,300.0 L286.9,300.6 L288.3,301.1 L289.7,301.7 L291.1,302.2 L292.5,302.8 L293.9,303.3 L295.3,303.9 L296.7,304.4 L298.1,305.0 L299.5,305.5 L300.9,306.1 L302.3,306.7 L303.7,307.2 L305.1,307.8 L306.5,308.3 L307.9,308.9 L309.3,309.4 L310.7,310.0 L312.1,310.6 L313.5,311.1 L314.9,311.7 L316.3,312.2 L317.7,312.8 L319.0,313.3 L320.4,313.9 L321.8,314.5 L323.2,315.0 L324.6,315.6 L326.0,316.1 L327.4,316.7 L328.8,317.3 L330.2,317.8 L331.6,318.4 L333.0,319.0 L334.4,319.5 L335.8,320.1 L337.2,320.7 L338.6,321.2 L340.0,321.8 L341.4,322.4 L342.8,323.0 L344.2,323.5 L345.6,324.1 L346.9,324.7 L348.3,325.3 L349.7,325.8 L351.1,326.4 L352.5,327.0 L353.9,327.6 L355.3,328.2 L356.7,328.7 L358.1,329.3 L359.5,329.9 L360.8,330.5 L362.2,331.1 L363.6,331.7 L365.0,332.3 L366.4,332.9 L367.8,333.5 L369.2,334.0 L370.5,334.6 L371.9,335.2 L373.3,335.8 L374.7,336.4 L376.1,337.1 L377.5,337.7 L378.8,338.3 L380.2,338.9 L381.6,339.5 L383.0,340.1 L384.4,340.7 L385.7,341.3 L387.1,341.9 L388.5,342.6 L389.9,343.2 L391.2,343.8 L392.6,344.4 L394.0,345.1 L395.3,345.7 L396.7,346.3 L398.1,346.9 L399.5,347.6 L400.8,348.2 L402.2,348.9 L403.6,349.5 L404.9,350.1 L406.3,350.8 L407.7,351.4 L409.0,352.1 L410.4,352.8 L411.7,353.4 L413.1,354.1 L414.4,354.7 L415.8,355.4 L417.1,356.1 L418.5,356.7 L419.8,357.4 L421.2,358.1 L422.5,358.8 L423.9,359.4 L425.2,360.1 L426.6,360.8 L427.9,361.5 L429.2,362.2 L430.6,362.9 L431.9,363.6 L433.2,364.3 L434.6,365.0 L435.9,365.7 L437.2,366.5 L438.5,367.2 L439.8,367.9 L441.2,368.6 L442.5,369.4 L443.8,370.1 L445.1,370.8 L446.4,371.6 L447.7,372.3 L449.0,373.1 L450.3,373.8 L451.6,374.6 L452.9,375.3 L454.1,376.1 L455.4,376.9 L456.7,377.7 L458.0,378.4 L459.3,379.2 L460.5,380.0 L461.8,380.8 L463.1,381.6 L464.3,382.4 L465.6,383.2 L466.8,384.0 L468.1,384.8 L469.3,385.7 L470.6,386.5 L471.8,387.3 L473.1,388.2 L474.3,389.0 L475.5,389.8 L476.7,390.7 L478.0,391.5 L479.2,392.4 L480.4,393.3 L481.6,394.1 L482.8,395.0 L484.0,395.9 L485.2,396.8 L486.4,397.7 L487.6,398.6 L488.8,399.5 L489.9,400.4 L491.1,401.3 L492.3,402.2 L493.5,403.2 L494.6,404.1 L495.8,405.0 L496.9,406.0 L498.1,406.9 L499.2,407.9 L500.3,408.9 L501.5,409.8 L502.6,410.8 L503.7,411.8 L504.8,412.8 L506.0,413.8 L507.1,414.8 L508.2,415.8 L509.3,416.8 L510.3,417.8 L511.4,418.8 L512.5,419.9 L513.6,420.9 L514.7,422.0 L515.7,423.0 L516.8,424.1 L517.8,425.1 L518.9,426.2 L519.9,427.3 L520.9,428.4 L522.0,429.5 L523.0,430.6 L524.0,431.7 L525.0,432.8 L526.0,433.9 L527.0,435.1 L528.0,436.2 L529.0,437.3 L530.0,438.5 L531.0,439.7 L531.9,440.8 L532.9,442.0 L533.9,443.2 L534.8,444.3 L535.8,445.5 L536.7,446.7 L537.6,447.9 L538.6,449.1 L539.5,450.3 L540.4,451.5 L541.3,452.7 L542.2,454.0 L543.1,455.2 L544.0,456.4 L544.9,457.6 L545.8,458.9 L546.7,460.1 L547.6,461.4 L548.4,462.6 L549.3,463.9 L550.2,465.1 L551.0,466.4 L551.8,467.7 L552.7,468.9 L553.5,470.2 L554.3,471.5 L555.2,472.8 L556.0,474.0 L556.8,475.3 L557.6,476.6 L558.4,477.9 L559.2,479.2 L560.0,480.5 L560.8,481.8 L561.6,483.1 L562.3,484.4 L563.1,485.7 L563.9,487.0 L564.6,488.3 L565.4,489.6 L566.1,490.9 L566.9,492.3 L567.6,493.6 L568.3,494.9 L569.1,496.2 L569.9,497.4 L570.7,498.7 L571.5,499.9 L572.4,501.0 L573.4,502.1 L574.4,503.1 L575.5,504.1 L576.7,504.9 L578.0,505.6 L579.2,506.0 L580.5,506.1 L581.8,506.0 L583.1,505.5 L584.3,504.9 L585.4,504.0 L586.5,502.9 L587.5,501.6 L588.5,500.3 L589.4,499.0 L590.4,497.7 L591.3,496.4 L592.2,495.2 L593.0,493.9 L593.9,492.6 L594.7,491.4 L595.6,490.2 L596.4,488.9 L597.3,487.7 L598.2,486.5 L599.0,485.3 L599.9,484.1 L600.8,482.9 L601.7,481.8 L602.6,480.6 L603.5,479.4 L604.4,478.3 L605.4,477.1 L606.4,476.0 L607.3,474.9 L608.3,473.7 L609.4,472.6 L610.4,471.5 L611.4,470.4 L612.5,469.3 L613.5,468.2 L614.6,467.1 L615.7,466.1 L616.8,465.0 L617.9,464.0 L619.0,462.9 L620.2,461.9 L621.3,460.9 L622.4,459.9 L623.6,459.0 L624.8,458.0 L625.9,457.1 L627.1,456.1 L628.3,455.2 L629.5,454.3 L630.7,453.4 L632.0,452.5 L633.2,451.7 L634.4,450.8 L635.7,450.0 L636.9,449.2 L638.2,448.4 L639.5,447.6 L640.7,446.8 L642.0,446.0 L643.3,445.3 L644.6,444.6 L645.9,443.8 L647.2,443.1 L648.5,442.4 L649.9,441.7 L651.2,441.1 L652.5,440.4 L653.9,439.8 L655.2,439.1 L656.6,438.5 L658.0,437.9 L659.3,437.3 L660.7,436.7 L662.1,436.2 L663.5,435.6 L664.9,435.1 L666.3,434.5 L667.7,434.0 L669.1,433.5 L670.5,433.0 L671.9,432.5 L673.3,432.1 L674.8,431.6 L676.2,431.2 L677.6,430.7 L679.1,430.3 L680.5,429.9 L682.0,429.5 L683.4,429.1 L684.9,428.7 L686.3,428.4 L687.8,428.0 L689.3,427.7 L690.7,427.3 L692.2,427.0 L693.7,426.7 L695.2,426.4 L696.6,426.1 L698.1,425.9 L699.6,425.6 L701.1,425.3 L702.6,425.1 L704.1,424.9 L705.6,424.7 L707.1,424.4 L708.6,424.2 L710.1,424.1 L711.6,423.9 L713.1,423.7 L714.6,423.6 L716.1,423.4 L717.6,423.3 L719.1,423.1 L720.6,423.0 L722.1,422.9 L723.6,422.8 L725.2,422.7 L726.7,422.7 L728.2,422.6 L729.7,422.5 L731.2,422.5 L732.7,422.4 L734.2,422.4 L735.7,422.4 L737.3,422.4 L738.8,422.4 L740.3,422.4 L741.8,422.4 L743.3,422.4 L744.8,422.5 L746.3,422.5 L747.8,422.6 L749.3,422.6 L750.8,422.7 L752.3,422.8 L753.8,422.9 L755.3,423.0 L756.8,423.1 L758.3,423.2 L759.8,423.3 L761.3,423.5 L762.8,423.6 L764.3,423.7 L765.7,423.9 L767.2,424.1 L768.7,424.2 L770.2,424.4 L771.6,424.6 L773.1,424.8 L774.6,425.0 L776.0,425.2 L777.5,425.4 L778.9,425.7 L780.4,425.9 L781.8,426.2" stroke="#e69f00" stroke-width="2"/>
<path d="M83.0,111.9 L84.0,113.0 L85.0,114.1 L86.0,115.2 L87.0,116.4 L88.0,117.5 L89.0,118.6 L90.0,119.7 L91.0,120.9 L92.0,122.0 L93.0,123.1 L94.0,124.2 L95.0,125.3 L96.0,126.4 L97.0,127.6 L98.0,128.7 L99.0,129.8 L100.0,130.9 L101.0,132.0 L102.0,133.1 L103.0,134.3 L104.0,135.4 L105.0,136.5 L106.0,137.6 L107.1,138.7 L108.1,139.8 L109.1,140.9 L110.1,142.1 L111.1,143.2 L112.1,144.3 L113.1,145.4 L114.1,146.5 L115.1,147.6 L116.1,148.8 L117.1,149.9 L118.2,151.0 L119.2,152.1 L120.2,153.3 L121.2,154.4 L122.2,155.5 L123.2,156.6 L124.2,157.7 L125.2,158.9 L126.2,160.0 L127.2,161.1 L128.2,162.3 L129.1,163.4 L130.1,164.5 L131.1,165.7 L132.1,166.8 L133.1,167.9 L134.1,169.1 L135.1,170.2 L136.1,171.4 L137.0,172.5 L138.0,173.7 L139.0,174.8 L140.0,176.0 L140.9,177.1 L141.9,178.3 L142.9,179.4 L143.8,180.6 L144.8,181.8 L145.7,182.9 L146.7,184.1 L147.6,185.3 L148.6,186.4 L149.5,187.6 L150.5,188.8 L151.4,190.0 L152.3,191.2 L153.3,192.3 L154.2,193.5 L155.1,194.7 L156.0,195.9 L157.0,197.1 L157.9,198.3 L158.8,199.5 L159.7,200.7 L160.6,202.0 L161.5,203.2 L162.4,204.4 L163.3,205.6 L164.2,206.8 L165.0,208.1 L165.9,209.3 L166.8,210.5 L167.7,211.8 L168.5,213.0 L169.4,214.3 L170.2,215.5 L171.1,216.8 L171.9,218.0 L172.8,219.3 L173.6,220.5 L174.4,221.8 L175.3,223.1 L176.1,224.3 L176.9,225.6 L177.7,226.9 L178.5,228.2 L179.3,229.4 L180.1,230.7 L180.9,232.0 L181.7,233.3 L182.5,234.6 L183.2,235.9 L184.0,237.2 L184.8,238.5 L185.5,239.8 L186.3,241.1 L187.0,242.4 L187.8,243.8 L188.5,245.1 L189.2,246.4 L189.9,247.7 L190.7,249.0 L191.4,250.4 L192.1,251.7 L192.8,253.0 L193.5,254.4 L194.2,255.7 L194.8,257.1 L195.5,258.4 L196.2,259.8 L196.8,261.1 L197.5,262.5 L198.1,263.8 L198.8,265.2 L199.4,266.6 L200.0,267.9 L200.7,269.3 L201.3,270.7 L201.9,272.0 L202.5,273.4 L203.1,274.8 L203.7,276.2 L204.3,277.6 L204.8,278.9 L205.4,280.3 L205.9,281.7 L206.5,283.1 L207.0,284.5 L207.6,285.9 L208.1,287.3 L208.6,288.7 L209.1,290.1 L209.6,291.5 L210.1,293.0 L210.6,294.4 L211.1,295.8 L211.6,297.2 L212.1,298.6 L212.5,300.0 L213.0,301.5 L213.5,302.9 L213.9,304.3 L214.3,305.8 L214.8,307.2 L215.2,308.6 L215.6,310.1 L216.0,311.5 L216.4,312.9 L216.8,314.4 L217.2,315.8 L217.6,317.3 L218.0,318.7 L218.4,320.2 L218.7,321.6 L219.1,323.1 L219.4,324.5 L219.8,326.0 L220.1,327.5 L220.5,328.9 L220.8,330.4 L221.1,331.8 L221.5,333.3 L221.8,334.8 L222.1,336.3 L222.4,337.7 L222.7,339.2 L223.0,340.7 L223.3,342.1 L223.6,343.6 L223.8,345.1 L224.1,346.6 L224.4,348.1 L224.6,349.5 L224.9,351.0 L225.1,352.5 L225.4,354.0 L225.6,355.5 L225.9,357.0 L226.1,358.5 L226.3,360.0 L226.6,361.5 L226.8,362.9 L227.0,364.4 L227.2,365.9 L227.4,367.4 L227.6,368.9 L227.8,370.4 L228.0,371.9 L228.2,373.4 L228.4,374.9 L228.6,376.4 L228.7,377.9 L228.9,379.4 L229.1,380.9 L229.2,382.4 L229.4,384.0 L229.6,385.5 L229.7,387.0 L229.9,388.5 L230.0,390.0 L230.2,391.5 L230.3,393.0 L230.4,394.5 L230.6,396.0 L230.7,397.5 L230.8,399.1 L231.0,400.6 L231.1,402.1 L231.2,403.6 L231.3,405.1 L231.4,406.6 L231.5,408.1 L231.6,409.6 L231.7,411.2 L231.8,412.7 L231.9,414.2 L232.0,415.7 L232.1,417.2 L232.2,418.7 L232.3,420.3 L232.4,421.8 L232.5,423.3 L232.5,424.8 L232.6,426.3 L232.7,427.8 L232.8,429.4 L232.8,430.9 L232.9,432.4 L233.0,433.9 L233.0,435.4 L233.1,436.9 L233.2,438.5 L233.2,440.0 L233.3,441.5 L233.3,443.0 L233.4,444.5 L233.4,446.0 L233.5,447.5 L233.5,449.1 L233.6,450.6 L233.6,452.1 L233.7,453.6 L233.7,455.1 L233.8,456.6 L233.8,458.1 L233.8,459.6 L233.9,461.1 L233.9,462.7 L234.0,464.2 L234.0,465.7 L234.0,467.2 L234.1,468.7 L234.1,470.2 L234.1,471.7 L234.2,473.2 L234.2,474.7 L234.2,476.2 L234.3,477.7 L234.3,479.2 L234.3,480.7 L234.4,482.2 L234.4,483.7 L234.4,485.2 L234.5,486.7 L234.5,488.2 L234.5,489.7 L234.6,491.2 L234.6,492.7 L234.6,494.1 L234.6,495.6 L234.7,497.1 L234.7,498.6 L234.7,500.1 L234.8,501.6 L234.8,503.1 L234.8,504.5 L234.9,506.0 L234.9,507.5 L234.9,509.0 L235.0,510.5 L235.0,511.9" stroke="#000" stroke-width="1.5" stroke-dasharray="4.6 6.8"/>
<path d="M236.2,512.0 L236.3,510.5 L236.4,509.0 L236.5,507.6 L236.6,506.1 L236.7,504.7 L236.8,503.2 L236.9,501.7 L236.9,500.2 L237.0,498.8 L237.1,497.3 L237.1,495.8 L237.2,494.3 L237.2,492.8 L237.3,491.4 L237.3,489.9 L237.3,488.4 L237.4,486.9 L237.4,485.4 L237.5,483.9 L237.5,482.4 L237.5,480.9 L237.5,479.4 L237.6,477.9 L237.6,476.4 L237.6,474.9 L237.6,473.4 L237.6,471.9 L237.6,470.4 L237.6,468.9 L237.7,467.4 L237.7,465.8 L237.7,464.3 L237.7,462.8 L237.7,461.3 L237.7,459.8 L237.7,458.3 L237.7,456.8 L237.7,455.2 L237.7,453.7 L237.7,452.2 L237.7,450.7 L237.7,449.2 L237.8,447.6 L237.8,446.1 L237.8,444.6 L237.8,443.1 L237.8,441.6 L237.8,440.0 L237.8,438.5 L237.9,437.0 L237.9,435.5 L237.9,433.9 L237.9,432.4 L238.0,430.9 L238.0,429.4 L238.0,427.9 L238.1,426.3 L238.1,424.8 L238.1,423.3 L238.2,421.8 L238.2,420.3 L238.3,418.7 L238.3,417.2 L238.4,415.7 L238.5,414.2 L238.5,412.7 L238.6,411.1 L238.7,409.6 L238.8,408.1 L238.9,406.6 L239.0,405.1 L239.1,403.6 L239.2,402.1 L239.3,400.6 L239.4,399.0 L239.5,397.5 L239.7,396.0 L239.8,394.5 L239.9,393.0 L240.1,391.5 L240.2,390.0 L240.4,388.5 L240.6,387.0 L240.7,385.5 L240.9,384.0 L241.1,382.5 L241.3,381.0 L241.5,379.6 L241.7,378.1 L241.9,376.6 L242.2,375.1 L242.4,373.6 L242.7,372.1 L242.9,370.7 L243.2,369.2 L243.4,367.7 L243.7,366.2 L244.0,364.8 L244.3,363.3 L244.6,361.8 L244.9,360.4 L245.3,358.9 L245.6,357.5 L246.0,356.0 L246.3,354.6 L246.7,353.1 L247.1,351.7 L247.5,350.2 L247.9,348.8 L248.3,347.3 L248.7,345.9 L249.1,344.5 L249.6,343.0 L250.0,341.6 L250.5,340.2 L251.0,338.8 L251.5,337.4 L252.0,335.9 L252.5,334.5 L253.0,333.1 L253.6,331.7 L254.1,330.3 L254.7,328.9 L255.3,327.6 L255.9,326.2 L256.5,324.8 L257.2,323.4 L257.8,322.1 L258.5,320.7 L259.2,319.4 L259.9,318.1 L260.6,316.8 L261.3,315.5 L262.1,314.2 L262.9,312.9 L263.7,311.6 L264.5,310.4 L265.4,309.2 L266.2,308.0 L267.1,306.8 L268.0,305.6 L269.0,304.4 L269.9,303.3 L270.9,302.2 L272.0,301.1 L273.0,300.0 L274.1,299.0 L275.2,297.9 L276.3,296.9 L277.4,295.9 L278.6,295.0 L279.8,294.0 L281.0,293.1 L282.2,292.2 L283.5,291.4 L284.7,290.5 L286.0,289.7 L287.3,288.9 L288.6,288.1 L289.9,287.3 L291.2,286.6 L292.6,285.9 L293.9,285.2 L295.3,284.5 L296.6,283.8 L298.0,283.2 L299.4,282.6 L300.8,282.0 L302.2,281.4 L303.6,280.9 L305.0,280.3 L306.4,279.8 L307.8,279.3 L309.2,278.9 L310.7,278.4 L312.1,278.0 L313.5,277.5 L315.0,277.1 L316.4,276.7 L317.9,276.4 L319.3,276.0 L320.8,275.7 L322.3,275.3 L323.7,275.0 L325.2,274.7 L326.7,274.4 L328.2,274.1 L329.7,273.9 L331.1,273.6 L332.6,273.4 L334.1,273.2 L335.6,273.0 L337.1,272.7 L338.6,272.6 L340.1,272.4 L341.6,272.2 L343.1,272.0 L344.6,271.9 L346.1,271.7 L347.6,271.6 L349.1,271.5 L350.6,271.3 L352.1,271.2 L353.6,271.1 L355.1,271.0 L356.6,270.9 L358.1,270.8 L359.6,270.8 L361.1,270.7 L362.6,270.6 L364.1,270.6 L365.6,270.5 L367.1,270.5 L368.6,270.5 L370.1,270.4 L371.6,270.4 L373.1,270.4 L374.6,270.4 L376.1,270.4 L377.6,270.4 L379.1,270.4 L380.6,270.4 L382.1,270.5 L383.6,270.5 L385.1,270.5 L386.6,270.6 L388.1,270.6 L389.6,270.7 L391.1,270.7 L392.6,270.8 L394.1,270.9 L395.6,270.9 L397.1,271.0 L398.6,271.1 L400.1,271.2 L401.6,271.3 L403.1,271.4 L404.6,271.5 L406.1,271.6 L407.6,271.7 L409.1,271.8 L410.6,271.9 L412.1,272.0 L413.6,272.2 L415.1,272.3 L416.6,272.4 L418.1,272.6 L419.6,272.7 L421.1,272.8 L422.6,273.0 L424.1,273.1 L425.6,273.3 L427.1,273.4 L428.6,273.6 L430.1,273.7 L431.6,273.9 L433.1,274.1 L434.6,274.2 L436.1,274.4 L437.6,274.6 L439.1,274.7 L440.6,274.9 L442.1,275.1 L443.6,275.2 L445.1,275.4 L446.6,275.6 L448.1,275.8 L449.5,276.0 L451.0,276.1 L452.5,276.3 L454.0,276.5 L455.5,276.7 L457.0,276.9 L458.5,277.1 L460.0,277.3 L461.5,277.5 L463.0,277.7 L464.5,277.9 L466.0,278.1 L467.5,278.3 L469.0,278.5 L470.5,278.7 L471.9,278.9 L473.4,279.1 L474.9,279.3 L476.4,279.5 L477.9,279.7 L479.4,279.9 L480.9,280.1 L482.4,280.3 L483.9,280.6 L485.4,280.8 L486.8,281.0 L488.3,281.2 L489.8,281.5 L491.3,281.7 L492.8,281.9 L494.3,282.2 L495.8,282.4 L497.2,282.6 L498.7,282.9 L500.2,283.1 L501.7,283.3 L503.2,283.6 L504.7,283.8 L506.1,284.1 L507.6,284.3 L509.1,284.6 L510.6,284.8 L512.1,285.1 L513.6,285.3 L515.0,285.6 L516.5,285.9 L518.0,286.1 L519.5,286.4 L521.0,286.7 L522.4,286.9 L523.9,287.2 L525.4,287.5 L526.9,287.8 L528.3,288.0 L529.8,288.3 L531.3,288.6 L532.8,288.9 L534.2,289.2 L535.7,289.5 L537.2,289.7 L538.7,290.0 L540.1,290.3 L541.6,290.6 L543.1,290.9 L544.6,291.2 L546.0,291.5 L547.5,291.9 L549.0,292.2 L550.4,292.5 L551.9,292.8 L553.4,293.1 L554.9,293.4 L556.3,293.7 L557.8,294.1 L559.3,294.4 L560.7,294.7 L562.2,295.1 L563.7,295.4 L565.1,295.7 L566.6,296.1 L568.1,296.4 L569.5,296.7 L571.0,297.1 L572.4,297.4 L573.9,297.8 L575.4,298.1 L576.8,298.5 L578.3,298.9 L579.7,299.2 L581.2,299.6 L582.7,299.9 L584.1,300.3 L585.6,300.7 L587.0,301.1 L588.5,301.5 L589.9,301.8 L591.4,302.2 L592.8,302.6 L594.3,303.0 L595.7,303.4 L597.2,303.8 L598.6,304.2 L600.1,304.6 L601.5,305.0 L603.0,305.4 L604.4,305.9 L605.9,306.3 L607.3,306.7 L608.7,307.1 L610.2,307.6 L611.6,308.0 L613.1,308.4 L614.5,308.9 L615.9,309.3 L617.4,309.8 L618.8,310.2 L620.2,310.7 L621.6,311.2 L623.1,311.6 L624.5,312.1 L625.9,312.6 L627.3,313.1 L628.8,313.6 L630.2,314.1 L631.6,314.6 L633.0,315.1 L634.4,315.6 L635.9,316.1 L637.3,316.6 L638.7,317.1 L640.1,317.6 L641.5,318.2 L642.9,318.7 L644.3,319.2 L645.7,319.8 L647.1,320.3 L648.5,320.9 L649.9,321.4 L651.3,322.0 L652.7,322.6 L654.1,323.2 L655.5,323.7 L656.8,324.3 L658.2,324.9 L659.6,325.5 L661.0,326.1 L662.4,326.7 L663.8,327.3 L665.1,328.0 L666.5,328.6 L667.9,329.2 L669.2,329.8 L670.6,330.5 L672.0,331.1 L673.3,331.8 L674.7,332.5 L676.0,333.1 L677.4,333.8 L678.7,334.5 L680.1,335.1 L681.4,335.8 L682.8,336.5 L684.1,337.2 L685.4,337.9 L686.8,338.7 L688.1,339.4 L689.4,340.1 L690.8,340.8 L692.1,341.6 L693.4,342.3 L694.7,343.1 L696.0,343.8 L697.3,344.6 L698.6,345.3 L699.9,346.1 L701.2,346.9 L702.5,347.7 L703.8,348.5 L705.0,349.3 L706.3,350.1 L707.6,350.9 L708.8,351.7 L710.1,352.5 L711.4,353.4 L712.6,354.2 L713.9,355.0 L715.1,355.9 L716.3,356.8 L717.6,357.6 L718.8,358.5 L720.0,359.4 L721.2,360.3 L722.4,361.1 L723.6,362.0 L724.8,362.9 L726.0,363.9 L727.2,364.8 L728.4,365.7 L729.6,366.6 L730.8,367.6 L731.9,368.5 L733.1,369.5 L734.2,370.4 L735.4,371.4 L736.5,372.3 L737.7,373.3 L738.8,374.3 L739.9,375.3 L741.0,376.3 L742.1,377.3 L743.2,378.3 L744.3,379.3 L745.4,380.4 L746.5,381.4 L747.6,382.4 L748.7,383.5 L749.7,384.6 L750.8,385.6 L751.8,386.7 L752.9,387.8 L753.9,388.8 L754.9,389.9 L755.9,391.0 L756.9,392.1 L757.9,393.3 L758.9,394.4 L759.9,395.5 L760.9,396.6 L761.9,397.8 L762.8,398.9 L763.8,400.1 L764.7,401.3 L765.7,402.4 L766.6,403.6 L767.5,404.8 L768.4,406.0 L769.3,407.2 L770.2,408.4 L771.1,409.6 L772.0,410.9 L772.9,412.1 L773.7,413.3 L774.6,414.6 L775.4,415.9 L776.3,417.1 L777.1,418.4 L777.9,419.7 L778.7,421.0 L779.5,422.3 L780.3,423.6 L781.1,424.9 L781.9,426.2" stroke="#000" stroke-width="1.5" stroke-dasharray="4.6 6.8"/>
<path d="M83.1,111.3 L84.1,112.3 L85.1,113.4 L86.1,114.5 L87.2,115.6 L88.2,116.7 L89.2,117.8 L90.2,118.9 L91.3,120.0 L92.3,121.1 L93.3,122.2 L94.3,123.3 L95.4,124.4 L96.4,125.5 L97.4,126.6 L98.5,127.7 L99.5,128.8 L100.5,129.9 L101.5,131.0 L102.6,132.1 L103.6,133.2 L104.6,134.3 L105.7,135.4 L106.7,136.5 L107.7,137.6 L108.7,138.7 L109.8,139.8 L110.8,140.9 L111.8,142.0 L112.8,143.1 L113.9,144.2 L114.9,145.3 L115.9,146.4 L116.9,147.5 L117.9,148.6 L119.0,149.7 L120.0,150.8 L121.0,151.9 L122.0,153.0 L123.0,154.1 L124.1,155.2 L125.1,156.4 L126.1,157.5 L127.1,158.6 L128.1,159.7 L129.1,160.8 L130.1,161.9 L131.1,163.1 L132.1,164.2 L133.2,165.3 L134.2,166.4 L135.2,167.5 L136.2,168.7 L137.2,169.8 L138.2,170.9 L139.1,172.1 L140.1,173.2 L141.1,174.3 L142.1,175.5 L143.1,176.6 L144.1,177.7 L145.1,178.9 L146.1,180.0 L147.0,181.1 L148.0,182.3 L149.0,183.4 L150.0,184.6 L150.9,185.7 L151.9,186.9 L152.9,188.0 L153.8,189.2 L154.8,190.3 L155.8,191.5 L156.7,192.7 L157.7,193.8 L158.6,195.0 L159.6,196.1 L160.5,197.3 L161.4,198.5 L162.4,199.7 L163.3,200.8 L164.3,202.0 L165.2,203.2 L166.1,204.4 L167.0,205.5 L168.0,206.7 L168.9,207.9 L169.8,209.1 L170.7,210.3 L171.6,211.5 L172.5,212.7 L173.4,213.9 L174.3,215.1 L175.2,216.3 L176.1,217.5 L177.0,218.7 L177.9,219.9 L178.7,221.1 L179.6,222.4 L180.5,223.6 L181.4,224.8 L182.3,226.0 L183.1,227.2 L184.0,228.5 L184.9,229.7 L185.7,230.9 L186.6,232.1 L187.5,233.3 L188.3,234.6 L189.2,235.8 L190.1,237.0 L190.9,238.3 L191.8,239.5 L192.7,240.7 L193.6,241.9 L194.4,243.2 L195.3,244.4 L196.2,245.6 L197.0,246.8 L197.9,248.1 L198.8,249.3 L199.7,250.5 L200.6,251.7 L201.4,252.9 L202.3,254.2 L203.2,255.4 L204.1,256.6 L205.0,257.8 L205.9,259.0 L206.8,260.2 L207.7,261.4 L208.6,262.6 L209.5,263.8 L210.5,265.0 L211.4,266.2 L212.3,267.4 L213.2,268.6 L214.2,269.8 L215.1,271.0 L216.1,272.2 L217.0,273.3 L218.0,274.5 L219.0,275.7 L219.9,276.8 L220.9,278.0 L221.9,279.2 L222.9,280.3 L223.9,281.5 L224.9,282.6 L226.0,283.7 L227.0,284.8 L228.1,285.8 L229.3,286.7 L230.4,287.6 L231.7,288.4 L233.0,289.1 L234.3,289.7 L235.7,290.2 L237.1,290.6 L238.5,291.0 L239.9,291.2 L241.4,291.4 L242.8,291.4 L244.3,291.4 L245.7,291.4 L247.2,291.2 L248.6,291.0 L250.1,290.8 L251.5,290.4 L252.9,290.1 L254.4,289.7 L255.8,289.2 L257.3,288.7 L258.7,288.2 L260.1,287.7 L261.6,287.1 L263.0,286.6 L264.5,286.0 L265.9,285.4 L267.3,284.8 L268.8,284.2 L270.2,283.7 L271.7,283.1 L273.1,282.6 L274.6,282.0 L276.0,281.5 L277.5,281.0 L278.9,280.5 L280.4,280.1 L281.8,279.6 L283.3,279.2 L284.7,278.7 L286.2,278.3 L287.6,277.9 L289.1,277.5 L290.5,277.1 L292.0,276.8 L293.5,276.4 L294.9,276.0 L296.4,275.7 L297.8,275.4 L299.3,275.1 L300.8,274.8 L302.2,274.5 L303.7,274.2 L305.2,273.9 L306.6,273.6 L308.1,273.4 L309.6,273.1 L311.1,272.9 L312.5,272.7 L314.0,272.5 L315.5,272.3 L317.0,272.1 L318.5,271.9 L319.9,271.7 L321.4,271.5 L322.9,271.3 L324.4,271.2 L325.9,271.0 L327.3,270.9 L328.8,270.7 L330.3,270.6 L331.8,270.5 L333.3,270.3 L334.8,270.2 L336.3,270.1 L337.8,270.0 L339.3,269.9 L340.8,269.8 L342.3,269.8 L343.8,269.7 L345.3,269.6 L346.7,269.6 L348.2,269.5 L349.7,269.5 L351.2,269.4 L352.7,269.4 L354.2,269.4 L355.7,269.3 L357.2,269.3 L358.7,269.3 L360.3,269.3 L361.8,269.3 L363.3,269.3 L364.8,269.3 L366.3,269.3 L367.8,269.4 L369.3,269.4 L370.8,269.4 L372.3,269.4 L373.8,269.5 L375.3,269.5 L376.8,269.6 L378.3,269.6 L379.8,269.7 L381.3,269.7 L382.8,269.8 L384.3,269.9 L385.8,270.0 L387.3,270.0 L388.9,270.1 L390.4,270.2 L391.9,270.3 L393.4,270.4 L394.9,270.5 L396.4,270.6 L397.9,270.7 L399.4,270.8 L400.9,270.9 L402.4,271.0 L403.9,271.1 L405.4,271.2 L406.9,271.4 L408.4,271.5 L409.9,271.6 L411.4,271.7 L412.9,271.9 L414.4,272.0 L415.9,272.1 L417.4,272.3 L418.9,272.4 L420.4,272.5 L421.9,272.7 L423.4,272.8 L424.9,273.0 L426.4,273.1 L427.9,273.3 L429.4,273.4 L430.9,273.6 L432.4,273.8 L433.9,273.9 L435.4,274.1 L436.9,274.2 L438.4,274.4 L439.9,274.6 L441.4,274.7 L442.9,274.9 L444.4,275.1 L445.9,275.3 L447.4,275.4 L448.9,275.6 L450.4,275.8 L451.8,276.0 L453.3,276.2 L454.8,276.4 L456.3,276.6 L457.8,276.8 L459.3,276.9 L460.8,277.1 L462.3,277.3 L463.8,277.5 L465.3,277.7 L466.7,277.9 L468.2,278.2 L469.7,278.4 L471.2,278.6 L472.7,278.8 L474.2,279.0 L475.7,279.2 L477.1,279.4 L478.6,279.7 L480.1,279.9 L481.6,280.1 L483.1,280.3 L484.6,280.6 L486.0,280.8 L487.5,281.0 L489.0,281.2 L490.5,281.5 L492.0,281.7 L493.5,282.0 L494.9,282.2 L496.4,282.4 L497.9,282.7 L499.4,282.9 L500.9,283.2 L502.3,283.4 L503.8,283.7 L505.3,283.9 L506.8,284.2 L508.3,284.5 L509.7,284.7 L511.2,285.0 L512.7,285.2 L514.2,285.5 L515.6,285.8 L517.1,286.0 L518.6,286.3 L520.1,286.6 L521.6,286.9 L523.0,287.1 L524.5,287.4 L526.0,287.7 L527.5,288.0 L528.9,288.3 L530.4,288.5 L531.9,288.8 L533.4,289.1 L534.8,289.4 L536.3,289.7 L537.8,290.0 L539.3,290.3 L540.7,290.6 L542.2,290.9 L543.7,291.2 L545.2,291.5 L546.6,291.8 L548.1,292.1 L549.6,292.4 L551.1,292.7 L552.5,293.0 L554.0,293.3 L555.5,293.7 L557.0,294.0 L558.4,294.3 L559.9,294.6 L561.4,295.0 L562.8,295.3 L564.3,295.6 L565.8,296.0 L567.3,296.3 L568.7,296.6 L570.2,297.0 L571.7,297.3 L573.1,297.7 L574.6,298.0 L576.1,298.4 L577.5,298.7 L579.0,299.1 L580.4,299.4 L581.9,299.8 L583.4,300.2 L584.8,300.5 L586.3,300.9 L587.7,301.3 L589.2,301.7 L590.7,302.0 L592.1,302.4 L593.6,302.8 L595.0,303.2 L596.5,303.6 L597.9,304.0 L599.4,304.4 L600.8,304.8 L602.3,305.2 L603.7,305.6 L605.2,306.0 L606.6,306.5 L608.1,306.9 L609.5,307.3 L610.9,307.7 L612.4,308.2 L613.8,308.6 L615.3,309.1 L616.7,309.5 L618.1,310.0 L619.6,310.4 L621.0,310.9 L622.4,311.3 L623.8,311.8 L625.3,312.3 L626.7,312.7 L628.1,313.2 L629.5,313.7 L631.0,314.2 L632.4,314.7 L633.8,315.2 L635.2,315.7 L636.6,316.2 L638.0,316.7 L639.5,317.2 L640.9,317.7 L642.3,318.3 L643.7,318.8 L645.1,319.3 L646.5,319.9 L647.9,320.4 L649.3,320.9 L650.7,321.5 L652.1,322.1 L653.5,322.6 L654.8,323.2 L656.2,323.8 L657.6,324.3 L659.0,324.9 L660.4,325.5 L661.8,326.1 L663.1,326.7 L664.5,327.3 L665.9,327.9 L667.3,328.5 L668.6,329.1 L670.0,329.8 L671.4,330.4 L672.7,331.0 L674.1,331.7 L675.4,332.3 L676.8,333.0 L678.1,333.6 L679.5,334.3 L680.8,335.0 L682.2,335.6 L683.5,336.3 L684.9,337.0 L686.2,337.7 L687.5,338.4 L688.9,339.1 L690.2,339.8 L691.5,340.5 L692.9,341.2 L694.2,341.9 L695.5,342.6 L696.8,343.3 L698.1,344.1 L699.4,344.8 L700.8,345.6 L702.1,346.3 L703.4,347.0 L704.7,347.8 L706.0,348.6 L707.3,349.3 L708.6,350.1 L709.8,350.9 L711.1,351.6 L712.4,352.4 L713.7,353.2 L715.0,354.0 L716.3,354.8 L717.5,355.6 L718.8,356.4 L720.1,357.2 L721.3,358.0 L722.6,358.8 L723.9,359.7 L725.1,360.5 L726.4,361.3 L727.6,362.2 L728.9,363.0 L730.1,363.8 L731.3,364.7 L732.6,365.5 L733.8,366.4 L735.1,367.3 L736.3,368.1 L737.5,369.0 L738.7,369.9 L740.0,370.7 L741.2,371.6 L742.4,372.5 L743.6,373.4 L744.8,374.3 L746.0,375.2 L747.3,376.1 L748.5,377.0 L749.7,377.9 L750.9,378.8 L752.1,379.7 L753.2,380.6 L754.4,381.5 L755.6,382.5 L756.8,383.4 L758.0,384.3 L759.1,385.3 L760.3,386.2 L761.5,387.2 L762.6,388.2 L763.8,389.1 L764.9,390.1 L766.0,391.1 L767.2,392.1 L768.3,393.1 L769.4,394.1 L770.5,395.1 L771.6,396.1 L772.7,397.2 L773.8,398.2 L774.8,399.3 L775.9,400.4 L776.9,401.4 L778.0,402.5 L779.0,403.6 L780.0,404.7 L781.0,405.8 L782.0,407.0" stroke="#0072b2" stroke-width="1.7" stroke-dasharray="2.3 3.4"/>
<path d="M82.8,103.1 L83.9,104.2 L85.0,105.3 L86.0,106.4 L87.1,107.5 L88.2,108.6 L89.3,109.7 L90.4,110.8 L91.5,111.8 L92.6,112.9 L93.7,113.9 L94.9,115.0 L96.0,116.0 L97.1,117.0 L98.2,118.0 L99.4,119.1 L100.5,120.1 L101.7,121.0 L102.8,122.0 L104.0,123.0 L105.2,124.0 L106.3,124.9 L107.5,125.9 L108.7,126.8 L109.9,127.8 L111.0,128.7 L112.2,129.6 L113.4,130.5 L114.6,131.4 L115.8,132.3 L117.0,133.2 L118.3,134.1 L119.5,135.0 L120.7,135.9 L121.9,136.7 L123.2,137.6 L124.4,138.4 L125.6,139.3 L126.9,140.1 L128.1,140.9 L129.4,141.8 L130.6,142.6 L131.9,143.4 L133.1,144.2 L134.4,145.0 L135.7,145.8 L137.0,146.6 L138.2,147.3 L139.5,148.1 L140.8,148.9 L142.1,149.6 L143.4,150.4 L144.7,151.1 L146.0,151.9 L147.3,152.6 L148.6,153.3 L149.9,154.0 L151.2,154.8 L152.5,155.5 L153.8,156.2 L155.2,156.9 L156.5,157.6 L157.8,158.3 L159.2,158.9 L160.5,159.6 L161.8,160.3 L163.2,161.0 L164.5,161.6 L165.9,162.3 L167.2,162.9 L168.6,163.6 L169.9,164.2 L171.3,164.8 L172.6,165.5 L174.0,166.1 L175.4,166.7 L176.7,167.3 L178.1,167.9 L179.5,168.5 L180.8,169.2 L182.2,169.7 L183.6,170.3 L185.0,170.9 L186.4,171.5 L187.8,172.1 L189.2,172.7 L190.5,173.2 L191.9,173.8 L193.3,174.4 L194.7,174.9 L196.1,175.5 L197.5,176.0 L198.9,176.6 L200.3,177.1 L201.8,177.7 L203.2,178.2 L204.6,178.7 L206.0,179.2 L207.4,179.8 L208.8,180.3 L210.2,180.8 L211.7,181.3 L213.1,181.8 L214.5,182.3 L215.9,182.8 L217.4,183.3 L218.8,183.8 L220.2,184.3 L221.6,184.8 L223.1,185.3 L224.5,185.8 L225.9,186.3 L227.4,186.8 L228.8,187.2 L230.2,187.7 L231.7,188.2 L233.1,188.7 L234.6,189.1 L236.0,189.6 L237.4,190.0 L238.9,190.5 L240.3,191.0 L241.8,191.4 L243.2,191.9 L244.7,192.3 L246.1,192.8 L247.6,193.2 L249.0,193.7 L250.5,194.1 L251.9,194.5 L253.4,195.0 L254.8,195.4 L256.3,195.8 L257.7,196.3 L259.2,196.7 L260.6,197.1 L262.1,197.6 L263.5,198.0 L265.0,198.4 L266.4,198.8 L267.9,199.3 L269.3,199.7 L270.8,200.1 L272.2,200.5 L273.7,200.9 L275.1,201.4 L276.6,201.8 L278.0,202.2 L279.5,202.6 L280.9,203.0 L282.4,203.4 L283.8,203.8 L285.3,204.2 L286.7,204.7 L288.2,205.1 L289.6,205.5 L291.1,205.9 L292.5,206.3 L294.0,206.7 L295.4,207.1 L296.9,207.5 L298.4,207.9 L299.8,208.3 L301.3,208.7 L302.7,209.1 L304.2,209.5 L305.6,209.9 L307.1,210.3 L308.5,210.7 L310.0,211.1 L311.4,211.5 L312.9,211.8 L314.3,212.2 L315.8,212.6 L317.2,213.0 L318.7,213.4 L320.1,213.8 L321.6,214.2 L323.0,214.6 L324.5,214.9 L325.9,215.3 L327.4,215.7 L328.8,216.1 L330.3,216.5 L331.7,216.9 L333.2,217.3 L334.7,217.6 L336.1,218.0 L337.6,218.4 L339.0,218.8 L340.5,219.2 L341.9,219.5 L343.4,219.9 L344.8,220.3 L346.3,220.7 L347.7,221.0 L349.2,221.4 L350.6,221.8 L352.1,222.2 L353.5,222.5 L355.0,222.9 L356.4,223.3 L357.9,223.7 L359.4,224.0 L360.8,224.4 L362.3,224.8 L363.7,225.2 L365.2,225.5 L366.6,225.9 L368.1,226.3 L369.5,226.6 L371.0,227.0 L372.4,227.4 L373.9,227.7 L375.4,228.1 L376.8,228.5 L378.3,228.8 L379.7,229.2 L381.2,229.6 L382.6,230.0 L384.1,230.3 L385.5,230.7 L387.0,231.1 L388.5,231.4 L389.9,231.8 L391.4,232.2 L392.8,232.5 L394.3,232.9 L395.7,233.3 L397.2,233.6 L398.7,234.0 L400.1,234.4 L401.6,234.7 L403.0,235.1 L404.5,235.5 L405.9,235.8 L407.4,236.2 L408.9,236.6 L410.3,236.9 L411.8,237.3 L413.2,237.7 L414.7,238.0 L416.2,238.4 L417.6,238.8 L419.1,239.1 L420.5,239.5 L422.0,239.9 L423.5,240.2 L424.9,240.6 L426.4,241.0 L427.8,241.3 L429.3,241.7 L430.8,242.1 L432.2,242.4 L433.7,242.8 L435.1,243.2 L436.6,243.5 L438.1,243.9 L439.5,244.3 L441.0,244.6 L442.5,245.0 L443.9,245.4 L445.4,245.8 L446.8,246.1 L448.3,246.5 L449.8,246.9 L451.2,247.2 L452.7,247.6 L454.2,248.0 L455.6,248.4 L457.1,248.7 L458.5,249.1 L460.0,249.5 L461.5,249.8 L462.9,250.2 L464.4,250.6 L465.9,251.0 L467.3,251.3 L468.8,251.7 L470.2,252.1 L471.7,252.5 L473.2,252.9 L474.6,253.2 L476.1,253.6 L477.5,254.0 L479.0,254.4 L480.5,254.7 L481.9,255.1 L483.4,255.5 L484.8,255.9 L486.3,256.3 L487.8,256.7 L489.2,257.0 L490.7,257.4 L492.1,257.8 L493.6,258.2 L495.0,258.6 L496.5,259.0 L497.9,259.4 L499.4,259.7 L500.8,260.1 L502.3,260.5 L503.8,260.9 L505.2,261.3 L506.7,261.7 L508.1,262.1 L509.6,262.5 L511.0,262.9 L512.5,263.3 L513.9,263.7 L515.3,264.1 L516.8,264.5 L518.2,264.9 L519.7,265.3 L521.1,265.7 L522.6,266.2 L524.0,266.6 L525.5,267.0 L526.9,267.4 L528.3,267.8 L529.8,268.3 L531.2,268.7 L532.7,269.1 L534.1,269.5 L535.5,270.0 L537.0,270.4 L538.4,270.8 L539.9,271.3 L541.3,271.7 L542.7,272.2 L544.2,272.6 L545.6,273.1 L547.0,273.5 L548.5,274.0 L549.9,274.4 L551.3,274.9 L552.8,275.4 L554.2,275.8 L555.6,276.3 L557.1,276.8 L558.5,277.2 L559.9,277.7 L561.3,278.2 L562.8,278.7 L564.2,279.2 L565.6,279.6 L567.1,280.1 L568.5,280.6 L569.9,281.1 L571.3,281.6 L572.7,282.1 L574.2,282.6 L575.6,283.1 L577.0,283.6 L578.4,284.1 L579.8,284.6 L581.3,285.1 L582.7,285.6 L584.1,286.1 L585.5,286.7 L586.9,287.2 L588.3,287.7 L589.8,288.2 L591.2,288.7 L592.6,289.3 L594.0,289.8 L595.4,290.3 L596.8,290.9 L598.2,291.4 L599.6,291.9 L601.0,292.5 L602.4,293.0 L603.9,293.6 L605.3,294.1 L606.7,294.7 L608.1,295.2 L609.5,295.8 L610.9,296.3 L612.3,296.9 L613.7,297.4 L615.1,298.0 L616.5,298.6 L617.9,299.1 L619.3,299.7 L620.7,300.3 L622.0,300.8 L623.4,301.4 L624.8,302.0 L626.2,302.6 L627.6,303.1 L629.0,303.7 L630.4,304.3 L631.8,304.9 L633.2,305.5 L634.6,306.1 L635.9,306.6 L637.3,307.2 L638.7,307.8 L640.1,308.4 L641.5,309.0 L642.9,309.6 L644.2,310.3 L645.6,310.9 L647.0,311.5 L648.4,312.1 L649.7,312.7 L651.1,313.3 L652.5,314.0 L653.8,314.6 L655.2,315.2 L656.5,315.9 L657.9,316.5 L659.3,317.2 L660.6,317.8 L662.0,318.5 L663.3,319.2 L664.7,319.8 L666.0,320.5 L667.3,321.2 L668.7,321.9 L670.0,322.6 L671.3,323.3 L672.7,324.0 L674.0,324.7 L675.3,325.4 L676.6,326.1 L677.9,326.9 L679.3,327.6 L680.6,328.3 L681.9,329.1 L683.2,329.8 L684.5,330.6 L685.7,331.4 L687.0,332.2 L688.3,332.9 L689.6,333.7 L690.9,334.5 L692.1,335.3 L693.4,336.2 L694.7,337.0 L695.9,337.8 L697.2,338.7 L698.4,339.5 L699.7,340.4 L700.9,341.2 L702.1,342.1 L703.4,343.0 L704.6,343.9 L705.8,344.8 L707.0,345.7 L708.3,346.6 L709.5,347.5 L710.7,348.4 L711.9,349.3 L713.1,350.3 L714.3,351.2 L715.5,352.1 L716.7,353.0 L717.9,354.0 L719.1,354.9 L720.3,355.8 L721.5,356.8 L722.7,357.7 L723.9,358.6 L725.1,359.5 L726.3,360.4 L727.5,361.4 L728.7,362.3 L730.0,363.2 L731.2,364.1 L732.4,365.0 L733.6,365.9 L734.8,366.7 L736.0,367.6 L737.3,368.5 L738.5,369.4 L739.7,370.2 L741.0,371.0 L742.2,371.9 L743.5,372.7 L744.7,373.5 L746.0,374.3 L747.3,375.1 L748.5,375.9 L749.8,376.6 L751.1,377.4 L752.4,378.1 L753.7,378.8 L755.0,379.5 L756.3,380.2 L757.7,380.9 L759.0,381.5 L760.3,382.1 L761.7,382.7 L763.0,383.3 L764.4,383.9 L765.8,384.4 L767.2,384.9 L768.6,385.4 L770.0,385.8 L771.5,386.2 L772.9,386.6 L774.4,386.9 L775.9,387.2 L777.4,387.5 L778.9,387.7 L780.4,387.8 L782.0,387.9" stroke="#e51e10" stroke-width="1.4" stroke-dasharray="13.7 4.6 2.3 4.6"/>
<path d="M82.8,103.1 L83.9,104.2 L85.0,105.3 L86.0,106.4 L87.1,107.5 L88.2,108.6 L89.3,109.7 L90.4,110.8 L91.5,111.8 L92.6,112.9 L93.7,113.9 L94.9,115.0 L96.0,116.0 L97.1,117.0 L98.2,118.0 L99.4,119.1 L100.5,120.1 L101.7,121.0 L102.8,122.0 L104.0,123.0 L105.2,124.0 L106.3,124.9 L107.5,125.9 L108.7,126.8 L109.9,127.8 L111.0,128.7 L112.2,129.6 L113.4,130.5 L114.6,131.4 L115.8,132.3 L117.0,133.2 L118.3,134.1 L119.5,135.0 L120.7,135.9 L121.9,136.7 L123.2,137.6 L124.4,138.4 L125.6,139.3 L126.9,140.1 L128.1,140.9 L129.4,141.8 L130.6,142.6 L131.9,143.4 L133.1,144.2 L134.4,145.0 L135.7,145.8 L137.0,146.6 L138.2,147.3 L139.5,148.1 L140.8,148.9 L142.1,149.6 L143.4,150.4 L144.7,151.1 L146.0,151.9 L147.3,152.6 L148.6,153.3 L149.9,154.0 L151.2,154.8 L152.5,155.5 L153.8,156.2 L155.2,156.9 L156.5,157.6 L157.8,158.3 L159.2,158.9 L160.5,159.6 L161.8,160.3 L163.2,161.0 L164.5,161.6 L165.9,162.3 L167.2,162.9 L168.6,163.6 L169.9,164.2 L171.3,164.8 L172.6,165.5 L174.0,166.1 L175.4,166.7 L176.7,167.3 L178.1,167.9 L179.5,168.5 L180.8,169.2 L182.2,169.7 L183.6,170.3 L185.0,170.9 L186.4,171.5 L187.8,172.1 L189.2,172.7 L190.5,173.2 L191.9,173.8 L193.3,174.4 L194.7,174.9 L196.1,175.5 L197.5,176.0 L198.9,176.6 L200.3,177.1 L201.8,177.7 L203.2,178.2 L204.6,178.7 L206.0,179.2 L207.4,179.8 L208.8,180.3 L210.2,180.8 L211.7,181.3 L213.1,181.8 L214.5,182.3 L215.9,182.8 L217.4,183.3 L218.8,183.8 L220.2,184.3 L221.6,184.8 L223.1,185.3 L224.5,185.8 L225.9,186.3 L227.4,186.8 L228.8,187.2 L230.2,187.7 L231.7,188.2 L233.1,188.7 L234.6,189.1 L236.0,189.6 L237.4,190.0 L238.9,190.5 L240.3,191.0 L241.8,191.4 L243.2,191.9 L244.7,192.3 L246.1,192.8 L247.6,193.2 L249.0,193.7 L250.5,194.1 L251.9,194.5 L253.4,195.0 L254.8,195.4 L256.3,195.8 L257.7,196.3 L259.2,196.7 L260.6,197.1 L262.1,197.6 L263.5,198.0 L265.0,198.4 L266.4,198.8 L267.9,199.3 L269.3,199.7 L270.8,200.1 L272.2,200.5 L273.7,200.9 L275.1,201.4 L276.6,201.8 L278.0,202.2 L279.5,202.6 L280.9,203.0 L282.4,203.4 L283.8,203.8 L285.3,204.2 L286.7,204.7 L288.2,205.1 L289.6,205.5 L291.1,205.9 L292.5,206.3 L294.0,206.7 L295.4,207.1 L296.9,207.5 L298.4,207.9 L299.8,208.3 L301.3,208.7 L302.7,209.1 L304.2,209.5 L305.6,209.9 L307.1,210.3 L308.5,210.7 L310.0,211.1 L311.4,211.5 L312.9,211.8 L314.3,212.2 L315.8,212.6 L317.2,213.0 L318.7,213.4 L320.1,213.8 L321.6,214.2 L323.0,214.6 L324.5,214.9 L325.9,215.3 L327.4,215.7 L328.8,216.1 L330.3,216.5 L331.7,216.9 L333.2,217.3 L334.7,217.6 L336.1,218.0 L337.6,218.4 L339.0,218.8 L340.5,219.2 L341.9,219.5 L343.4,219.9 L344.8,220.3 L346.3,220.7 L347.7,221.0 L349.2,221.4 L350.6,221.8 L352.1,222.2 L353.5,222.5 L355.0,222.9 L356.4,223.3 L357.9,223.7 L359.4,224.0 L360.8,224.4 L362.3,224.8 L363.7,225.2 L365.2,225.5 L366.6,225.9 L368.1,226.3 L369.5,226.6 L371.0,227.0 L372.4,227.4 L373.9,227.7 L375.4,228.1 L376.8,228.5 L378.3,228.8 L379.7,229.2 L381.2,229.6 L382.6,230.0 L384.1,230.3 L385.5,230.7 L387.0,231.1 L388.5,231.4 L389.9,231.8 L391.4,232.2 L392.8,232.5 L394.3,232.9 L395.7,233.3 L397.2,233.6 L398.7,234.0 L400.1,234.4 L401.6,234.7 L403.0,235.1 L404.5,235.5 L405.9,235.8 L407.4,236.2 L408.9,236.6 L410.3,236.9 L411.8,237.3 L413.2,237.7 L414.7,238.0 L416.2,238.4 L417.6,238.8 L419.1,239.1 L420.5,239.5 L422.0,239.9 L423.5,240.2 L424.9,240.6 L426.4,241.0 L427.8,241.3 L429.3,241.7 L430.8,242.1 L432.2,242.4 L433.7,242.8 L435.1,243.2 L436.6,243.5 L438.1,243.9 L439.5,244.3 L441.0,244.6 L442.5,245.0 L443.9,245.4 L445.4,245.8 L446.8,246.1 L448.3,246.5 L449.8,246.9 L451.2,247.2 L452.7,247.6 L454.2,248.0 L455.6,248.4 L457.1,248.7 L458.5,249.1 L460.0,249.5 L461.5,249.8 L462.9,250.2 L464.4,250.6 L465.9,251.0 L467.3,251.3 L468.8,251.7 L470.2,252.1 L471.7,252.5 L473.2,252.9 L474.6,253.2 L476.1,253.6 L477.5,254.0 L479.0,254.4 L480.5,254.7 L481.9,255.1 L483.4,255.5 L484.8,255.9 L486.3,256.3 L487.8,256.7 L489.2,257.0 L490.7,257.4 L492.1,257.8 L493.6,258.2 L495.0,258.6 L496.5,259.0 L497.9,259.4 L499.4,259.7 L500.8,260.1 L502.3,260.5 L503.8,260.9 L505.2,261.3 L506.7,261.7 L508.1,262.1 L509.6,262.5 L511.0,262.9 L512.5,263.3 L513.9,263.7 L515.3,264.1 L516.8,264.5 L518.2,264.9 L519.7,265.3 L521.1,265.7 L522.6,266.2 L524.0,266.6 L525.5,267.0 L526.9,267.4 L528.3,267.8 L529.8,268.3 L531.2,268.7 L532.7,269.1 L534.1,269.5 L535.5,270.0 L537.0,270.4 L538.4,270.8 L539.9,271.3 L541.3,271.7 L542.7,272.2 L544.2,272.6 L545.6,273.1 L547.0,273.5 L548.5,274.0 L549.9,274.4 L551.3,274.9 L552.8,275.4 L554.2,275.8 L555.6,276.3 L557.1,276.8 L558.5,277.2 L559.9,277.7 L561.3,278.2 L562.8,278.7 L564.2,279.2 L565.6,279.6 L567.1,280.1 L568.5,280.6 L569.9,281.1 L571.3,281.6 L572.7,282.1 L574.2,282.6 L575.6,283.1 L577.0,283.6 L578.4,284.1 L579.8,284.6 L581.3,285.1 L582.7,285.6 L584.1,286.1 L585.5,286.7 L586.9,287.2 L588.3,287.7 L589.8,288.2 L591.2,288.7 L592.6,289.3 L594.0,289.8 L595.4,290.3 L596.8,290.9 L598.2,291.4 L599.6,291.9 L601.0,292.5 L602.4,293.0 L603.9,293.6 L605.3,294.1 L606.7,294.7 L608.1,295.2 L609.5,295.8 L610.9,296.3 L612.3,296.9 L613.7,297.4 L615.1,298.0 L616.5,298.6 L617.9,299.1 L619.3,299.7 L620.7,300.3 L622.0,300.8 L623.4,301.4 L624.8,302.0 L626.2,302.6 L627.6,303.1 L629.0,303.7 L630.4,304.3 L631.8,304.9 L633.2,305.5 L634.6,306.1 L635.9,306.6 L637.3,307.2 L638.7,307.8 L640.1,308.4 L641.5,309.0 L642.9,309.6 L644.2,310.3 L645.6,310.9 L647.0,311.5 L648.4,312.1 L649.7,312.7 L651.1,313.3 L652.5,314.0 L653.8,314.6 L655.2,315.2 L656.5,315.9 L657.9,316.5 L659.3,317.2 L660.6,317.8 L662.0,318.5 L663.3,319.2 L664.7,319.8 L666.0,320.5 L667.3,321.2 L668.7,321.9 L670.0,322.6 L671.3,323.3 L672.7,324.0 L674.0,324.7 L675.3,325.4 L676.6,326.1 L677.9,326.9 L679.3,327.6 L680.6,328.3 L681.9,329.1 L683.2,329.8 L684.5,330.6 L685.7,331.4 L687.0,332.2 L688.3,332.9 L689.6,333.7 L690.9,334.5 L692.1,335.3 L693.4,336.2 L694.7,337.0 L695.9,337.8 L697.2,338.7 L698.4,339.5 L699.7,340.4 L700.9,341.2 L702.1,342.1 L703.4,343.0 L704.6,343.9 L705.8,344.8 L707.0,345.7 L708.3,346.6 L709.5,347.5 L710.7,348.4 L711.9,349.3 L713.1,350.3 L714.3,351.2 L715.5,352.1 L716.7,353.0 L717.9,354.0 L719.1,354.9 L720.3,355.8 L721.5,356.8 L722.7,357.7 L723.9,358.6 L725.1,359.5 L726.3,360.4 L727.5,361.4 L728.7,362.3 L730.0,363.2 L731.2,364.1 L732.4,365.0 L733.6,365.9 L734.8,366.7 L736.0,367.6 L737.3,368.5 L738.5,369.4 L739.7,370.2 L741.0,371.0 L742.2,371.9 L743.5,372.7 L744.7,373.5 L746.0,374.3 L747.3,375.1 L748.5,375.9 L749.8,376.6 L751.1,377.4 L752.4,378.1 L753.7,378.8 L755.0,379.5 L756.3,380.2 L757.7,380.9 L759.0,381.5 L760.3,382.1 L761.7,382.7 L763.0,383.3 L764.4,383.9 L765.8,384.4 L767.2,384.9 L768.6,385.4 L770.0,385.8 L771.5,386.2 L772.9,386.6 L774.4,386.9 L775.9,387.2 L777.4,387.5 L778.9,387.7 L780.4,387.8 L782.0,387.9" stroke="#000" stroke-width="2"/>
</g>
<text x="694.4" y="81.65" font-size="19.35" text-anchor="end"><tspan class="s" dy="-9.20">3</tspan><tspan dy="9.20">P</tspan><tspan class="s" dy="5.20">0</tspan><tspan dy="-5.20"> [pp]</tspan></text>
<path d="M705.5,74.75H759.3" stroke="#9400d3" stroke-width="1.5" stroke-dasharray="4.6 6.8" fill="none"/>
<text x="694.4" y="100.98" font-size="19.35" text-anchor="end"><tspan class="s" dy="-9.20">3</tspan><tspan dy="9.20">P</tspan><tspan class="s" dy="5.20">0</tspan><tspan dy="-2.60">+</tspan><tspan class="s" dy="-11.80">3</tspan><tspan dy="9.20">P</tspan><tspan class="s" dy="5.20"><tspan class="h">1</tspan></tspan><tspan dy="-5.20"> [pp]</tspan></text>
<path d="M705.5,94.08H759.3" stroke="#009e73" stroke-width="1.7" stroke-dasharray="2.3 3.4" fill="none"/>
<text x="694.4" y="120.31" font-size="19.35" text-anchor="end"><tspan class="s" dy="-9.20">3</tspan><tspan dy="9.20">P</tspan><tspan class="s" dy="5.20">0</tspan><tspan dy="-2.60">+</tspan><tspan class="s" dy="-11.80">3</tspan><tspan dy="9.20">P</tspan><tspan class="s" dy="5.20"><tspan class="h">1</tspan></tspan><tspan dy="-2.60">+</tspan><tspan class="s" dy="-11.80">3</tspan><tspan dy="9.20">P</tspan><tspan class="s" dy="5.20">2</tspan><tspan dy="-5.20"> [pp]</tspan></text>
<path d="M705.5,113.41H759.3" stroke="#56b4e9" stroke-width="1.4" stroke-dasharray="13.7 4.6 2.3 4.6" fill="none"/>
<text x="694.4" y="139.64" font-size="19.35" text-anchor="end"><tspan class="s" dy="-9.20">3</tspan><tspan dy="9.20">P</tspan><tspan class="s" dy="5.20">0</tspan><tspan dy="-2.60">+</tspan><tspan class="s" dy="-11.80">3</tspan><tspan dy="9.20">P</tspan><tspan class="s" dy="5.20"><tspan class="h">1</tspan></tspan><tspan dy="-2.60">+</tspan><tspan class="s" dy="-11.80">3</tspan><tspan dy="9.20">P</tspan><tspan class="s" dy="5.20">2</tspan><tspan dy="-2.60">+</tspan><tspan class="s" dy="-11.80">3</tspan><tspan dy="9.20">F</tspan><tspan class="s" dy="5.20">2</tspan><tspan dy="-5.20"> [pp]</tspan></text>
<path d="M705.5,132.74H759.3" stroke="#e69f00" stroke-width="2" fill="none"/>
<text x="694.4" y="158.97" font-size="19.35" text-anchor="end"><tspan class="s" dy="-9.20">3</tspan><tspan dy="9.20">S</tspan><tspan class="s" dy="5.20"><tspan class="h">1</tspan></tspan><tspan dy="-5.20"> [np]</tspan></text>
<path d="M705.5,152.07H759.3" stroke="#000" stroke-width="1.5" stroke-dasharray="4.6 6.8" fill="none"/>
<text x="694.4" y="178.30" font-size="19.35" text-anchor="end"><tspan class="s" dy="-9.20">3</tspan><tspan dy="9.20">S</tspan><tspan class="s" dy="5.20"><tspan class="h">1</tspan></tspan><tspan dy="-2.60">+</tspan><tspan class="s" dy="-11.80">3</tspan><tspan dy="9.20">P</tspan><tspan class="s" dy="5.20">0</tspan><tspan dy="-2.60">+</tspan><tspan class="s" dy="-11.80">3</tspan><tspan dy="9.20">P</tspan><tspan class="s" dy="5.20"><tspan class="h">1</tspan></tspan><tspan dy="-2.60">+</tspan><tspan class="s" dy="-11.80">3</tspan><tspan dy="9.20">P</tspan><tspan class="s" dy="5.20">2</tspan><tspan dy="-5.20"> [np]</tspan></text>
<path d="M705.5,171.40H759.3" stroke="#0072b2" stroke-width="1.7" stroke-dasharray="2.3 3.4" fill="none"/>
<text x="694.4" y="197.63" font-size="19.35" text-anchor="end"><tspan class="s" dy="-9.20">3</tspan><tspan dy="9.20">S</tspan><tspan class="s" dy="5.20"><tspan class="h">1</tspan></tspan><tspan dy="-2.60">+</tspan><tspan class="s" dy="-11.80">3</tspan><tspan dy="9.20">P</tspan><tspan class="s" dy="5.20">0</tspan><tspan dy="-2.60">+</tspan><tspan class="s" dy="-11.80">3</tspan><tspan dy="9.20">P</tspan><tspan class="s" dy="5.20"><tspan class="h">1</tspan></tspan><tspan dy="-2.60">+</tspan><tspan class="s" dy="-11.80">3</tspan><tspan dy="9.20">P</tspan><tspan class="s" dy="5.20">2</tspan><tspan dy="-2.60">+</tspan><tspan class="s" dy="-11.80">3</tspan><tspan dy="9.20">D</tspan><tspan class="s" dy="5.20"><tspan class="h">1</tspan></tspan><tspan dy="-2.60">+</tspan><tspan class="s" dy="-11.80">3</tspan><tspan dy="9.20">D</tspan><tspan class="s" dy="5.20">2</tspan><tspan dy="-5.20"> [np]</tspan></text>
<path d="M705.5,190.73H759.3" stroke="#e51e10" stroke-width="1.4" stroke-dasharray="13.7 4.6 2.3 4.6" fill="none"/>
<text x="694.4" y="216.96" font-size="19.35" text-anchor="end"><tspan class="s" dy="-9.20">3</tspan><tspan dy="9.20">S</tspan><tspan class="s" dy="5.20"><tspan class="h">1</tspan></tspan><tspan dy="-2.60">+</tspan><tspan class="s" dy="-11.80">3</tspan><tspan dy="9.20">P</tspan><tspan class="s" dy="5.20">0</tspan><tspan dy="-2.60">+</tspan><tspan class="s" dy="-11.80">3</tspan><tspan dy="9.20">P</tspan><tspan class="s" dy="5.20"><tspan class="h">1</tspan></tspan><tspan dy="-2.60">+</tspan><tspan class="s" dy="-11.80">3</tspan><tspan dy="9.20">P</tspan><tspan class="s" dy="5.20">2</tspan><tspan dy="-2.60">+</tspan><tspan class="s" dy="-11.80">3</tspan><tspan dy="9.20">D</tspan><tspan class="s" dy="5.20"><tspan class="h">1</tspan></tspan><tspan dy="-2.60">+</tspan><tspan class="s" dy="-11.80">3</tspan><tspan dy="9.20">D</tspan><tspan class="s" dy="5.20">2</tspan><tspan dy="-2.60">+</tspan><tspan class="s" dy="-11.80">3</tspan><tspan dy="9.20">F</tspan><tspan class="s" dy="5.20">2</tspan><tspan dy="-5.20"> [np]</tspan></text>
<path d="M705.5,210.06H759.3" stroke="#000" stroke-width="2" fill="none"/>
<rect x="83.0" y="58.0" width="699.25" height="452.0" fill="none" stroke="#000" stroke-width="1.5"/>
<defs><path id="one" d="M515,0V1237L197,1010V1180L530,1409H696V0Z"/></defs>
<g fill="#000"><use href="#one" transform="translate(41.16,66.50) scale(0.00945,-0.00945)"/>
<use href="#one" transform="translate(62.59,57.80) scale(0.00813,-0.00813)"/>
<use href="#one" transform="translate(41.16,131.07) scale(0.00945,-0.00945)"/>
<use href="#one" transform="translate(36.27,195.64) scale(0.00945,-0.00945)"/>
<use href="#one" transform="translate(62.59,186.94) scale(0.00813,-0.00813)"/>
<use href="#one" transform="translate(36.28,260.21) scale(0.00945,-0.00945)"/>
<use href="#one" transform="translate(36.28,324.79) scale(0.00945,-0.00945)"/>
<use href="#one" transform="translate(36.28,389.36) scale(0.00945,-0.00945)"/>
<use href="#one" transform="translate(36.28,453.93) scale(0.00945,-0.00945)"/>
<use href="#one" transform="translate(36.28,518.50) scale(0.00945,-0.00945)"/>
<use href="#one" transform="translate(760.73,536.40) scale(0.00945,-0.00945)"/>
<use href="#one" transform="translate(460.11,35.50) scale(0.00945,-0.00945)"/>
<use href="#one" transform="translate(507.97,35.50) scale(0.00945,-0.00945)"/>
<use href="#one" transform="matrix(0 -1 1 0 22.6 283.85) translate(-42.67,6.10) scale(0.00813,-0.00813)"/>
<use href="#one" transform="translate(648.15,106.18) scale(0.00813,-0.00813)"/>
<use href="#one" transform="translate(606.73,125.51) scale(0.00813,-0.00813)"/>
<use href="#one" transform="translate(566.38,144.84) scale(0.00813,-0.00813)"/>
<use href="#one" transform="translate(648.15,164.17) scale(0.00813,-0.00813)"/>
<use href="#one" transform="translate(523.88,183.50) scale(0.00813,-0.00813)"/>
<use href="#one" transform="translate(606.73,183.50) scale(0.00813,-0.00813)"/>
<use href="#one" transform="translate(438.88,202.83) scale(0.00813,-0.00813)"/>
<use href="#one" transform="translate(521.73,202.83) scale(0.00813,-0.00813)"/>
<use href="#one" transform="translate(605.65,202.83) scale(0.00813,-0.00813)"/>
<use href="#one" transform="translate(398.54,222.16) scale(0.00813,-0.00813)"/>
<use href="#one" transform="translate(481.38,222.16) scale(0.00813,-0.00813)"/>
<use href="#one" transform="translate(565.31,222.16) scale(0.00813,-0.00813)"/></g>
</svg></body></html>
